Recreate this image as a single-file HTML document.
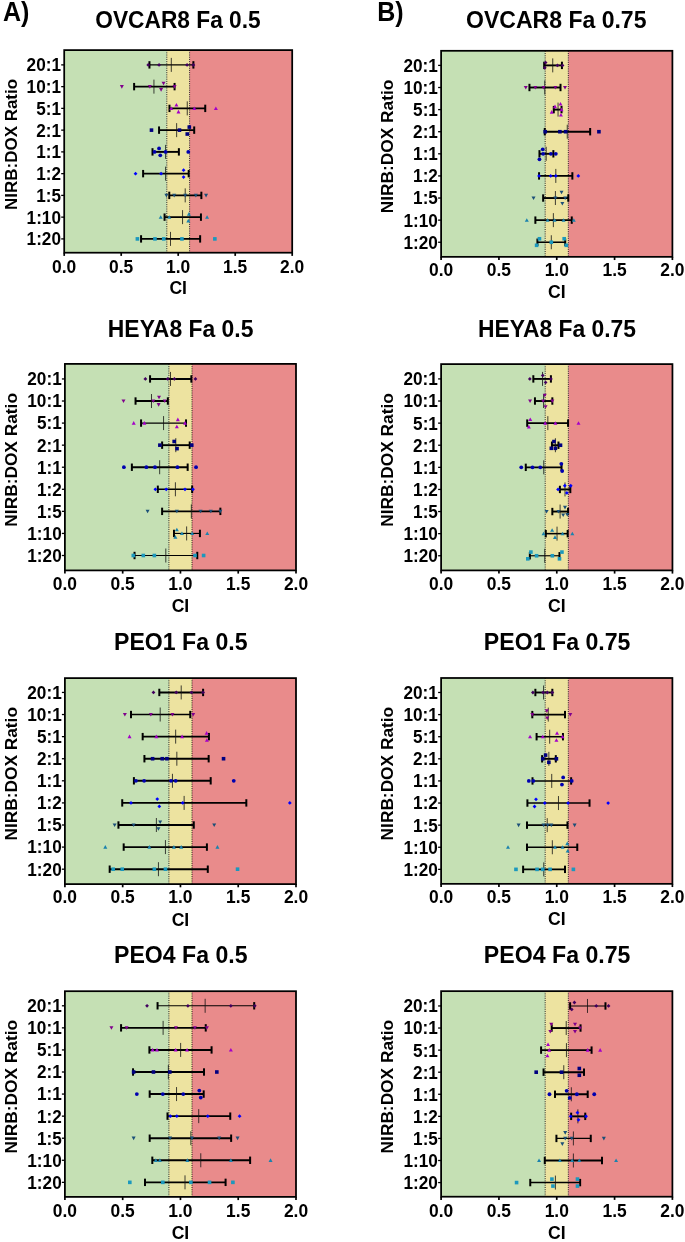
<!DOCTYPE html>
<html><head><meta charset="utf-8"><title>Figure</title><style>html,body{margin:0;padding:0;background:#fff}svg{display:block;will-change:transform}</style></head><body>
<svg width="685" height="1242" viewBox="0 0 685 1242">
<defs><filter id="soft" filterUnits="userSpaceOnUse" x="0" y="0" width="685" height="1242"><feGaussianBlur stdDeviation="0.38"/></filter></defs>
<rect width="685" height="1242" fill="#fff"/>
<g filter="url(#soft)">
<rect width="685" height="1242" fill="#fff"/>
<text x="3.0" y="21.0" font-size="27.2" textLength="26.4" lengthAdjust="spacingAndGlyphs" font-family="Liberation Sans, sans-serif" font-weight="bold">A)</text>
<text x="377.2" y="21.0" font-size="27.2" textLength="26.4" lengthAdjust="spacingAndGlyphs" font-family="Liberation Sans, sans-serif" font-weight="bold">B)</text>
<g><rect x="64.2" y="50.1" width="102.6" height="202.6" fill="#c5e0b4"/><rect x="166.8" y="50.1" width="22.8" height="202.6" fill="#ede3a0"/><rect x="189.6" y="50.1" width="102.6" height="202.6" fill="#e98b8b"/><line x1="166.8" y1="50.1" x2="166.8" y2="252.7" stroke="#000" stroke-width="0.82" stroke-dasharray="1.05 1.15"/><line x1="189.6" y1="50.1" x2="189.6" y2="252.7" stroke="#000" stroke-width="0.82" stroke-dasharray="1.05 1.15"/><line x1="149.45" y1="64.88" x2="193.39" y2="64.88" stroke="#000" stroke-width="1.15"/><line x1="149.45" y1="61.18" x2="149.45" y2="68.58" stroke="#000" stroke-width="2"/><line x1="193.39" y1="61.18" x2="193.39" y2="68.58" stroke="#000" stroke-width="2"/><line x1="171.31" y1="57.88" x2="171.31" y2="71.88" stroke="#111" stroke-width="0.8"/><path d="M148.22 62.98L150.12 64.88L148.22 66.78L146.32 64.88Z" fill="#43005f"/><path d="M159.05 62.98L160.95 64.88L159.05 66.78L157.15 64.88Z" fill="#43005f"/><path d="M187.05 62.98L188.95 64.88L187.05 66.78L185.15 64.88Z" fill="#43005f"/><path d="M193.39 62.98L195.29 64.88L193.39 66.78L191.49 64.88Z" fill="#43005f"/><line x1="134.12" y1="86.63" x2="174.58" y2="86.63" stroke="#000" stroke-width="1.9"/><line x1="134.12" y1="82.93" x2="134.12" y2="90.33" stroke="#000" stroke-width="2"/><line x1="174.58" y1="82.93" x2="174.58" y2="90.33" stroke="#000" stroke-width="2"/><line x1="153.94" y1="79.63" x2="153.94" y2="93.63" stroke="#111" stroke-width="0.8"/><path d="M121.85 88.63L123.85 85.03L119.85 85.03Z" fill="#80008c"/><path d="M149.85 88.63L151.85 85.03L147.85 85.03Z" fill="#80008c"/><path d="M163.55 85.36L165.55 81.76L161.55 81.76Z" fill="#80008c"/><path d="M161.09 91.7L163.09 88.1L159.09 88.1Z" fill="#80008c"/><path d="M174.58 88.63L176.58 85.03L172.58 85.03Z" fill="#80008c"/><line x1="169.47" y1="108.38" x2="205.24" y2="108.38" stroke="#000" stroke-width="1.9"/><line x1="169.47" y1="104.68" x2="169.47" y2="112.08" stroke="#000" stroke-width="2"/><line x1="205.24" y1="104.68" x2="205.24" y2="112.08" stroke="#000" stroke-width="2"/><line x1="187.26" y1="101.38" x2="187.26" y2="115.38" stroke="#111" stroke-width="0.8"/><path d="M171.31 106.38L173.31 109.98L169.31 109.98Z" fill="#a400c8"/><path d="M176.42 102.91L178.42 106.51L174.42 106.51Z" fill="#a400c8"/><path d="M178.47 109.86L180.47 113.46L176.47 113.46Z" fill="#a400c8"/><path d="M194.41 106.38L196.41 109.98L192.41 109.98Z" fill="#a400c8"/><path d="M215.87 106.38L217.87 109.98L213.87 109.98Z" fill="#a400c8"/><line x1="159.05" y1="130.13" x2="194.2" y2="130.13" stroke="#000" stroke-width="1.9"/><line x1="159.05" y1="126.43" x2="159.05" y2="133.83" stroke="#000" stroke-width="2"/><line x1="194.2" y1="126.43" x2="194.2" y2="133.83" stroke="#000" stroke-width="2"/><line x1="176.63" y1="123.13" x2="176.63" y2="137.13" stroke="#111" stroke-width="0.8"/><rect x="149.69" y="128.33" width="3.6" height="3.6" fill="#000080"/><rect x="177.69" y="128.33" width="3.6" height="3.6" fill="#000080"/><rect x="187.5" y="125.27" width="3.6" height="3.6" fill="#000080"/><rect x="185.46" y="132.22" width="3.6" height="3.6" fill="#000080"/><line x1="152.51" y1="151.89" x2="178.88" y2="151.89" stroke="#000" stroke-width="1.9"/><line x1="152.51" y1="148.19" x2="152.51" y2="155.59" stroke="#000" stroke-width="2"/><line x1="178.88" y1="148.19" x2="178.88" y2="155.59" stroke="#000" stroke-width="2"/><line x1="165.59" y1="144.89" x2="165.59" y2="158.89" stroke="#111" stroke-width="0.8"/><circle cx="159.05" cy="148.41" r="1.9" fill="#0000b0"/><circle cx="154.55" cy="151.89" r="1.9" fill="#0000b0"/><circle cx="165.59" cy="151.89" r="1.9" fill="#0000b0"/><circle cx="160.28" cy="155.36" r="1.9" fill="#0000b0"/><circle cx="188.28" cy="151.89" r="1.9" fill="#0000b0"/><line x1="143.11" y1="173.64" x2="188.69" y2="173.64" stroke="#000" stroke-width="1.9"/><line x1="143.11" y1="169.94" x2="143.11" y2="177.34" stroke="#000" stroke-width="2"/><line x1="188.69" y1="169.94" x2="188.69" y2="177.34" stroke="#000" stroke-width="2"/><line x1="165.59" y1="166.64" x2="165.59" y2="180.64" stroke="#111" stroke-width="0.8"/><path d="M135.55 171.74L137.45 173.64L135.55 175.54L133.65 173.64Z" fill="#0000ff"/><path d="M161.09 171.74L162.99 173.64L161.09 175.54L159.19 173.64Z" fill="#0000ff"/><path d="M183.58 168.26L185.48 170.16L183.58 172.06L181.68 170.16Z" fill="#0000ff"/><path d="M183.58 175.21L185.48 177.11L183.58 179.01L181.68 177.11Z" fill="#0000ff"/><line x1="169.27" y1="195.39" x2="201.36" y2="195.39" stroke="#000" stroke-width="1.55"/><line x1="169.27" y1="191.69" x2="169.27" y2="199.09" stroke="#000" stroke-width="2"/><line x1="201.36" y1="191.69" x2="201.36" y2="199.09" stroke="#000" stroke-width="2"/><line x1="185.21" y1="188.39" x2="185.21" y2="202.39" stroke="#111" stroke-width="0.8"/><path d="M166.41 197.39L168.41 193.79L164.41 193.79Z" fill="#1a4f78"/><path d="M174.18 197.39L176.18 193.79L172.18 193.79Z" fill="#1a4f78"/><path d="M185.21 197.39L187.21 193.79L183.21 193.79Z" fill="#1a4f78"/><path d="M195.84 197.39L197.84 193.79L193.84 193.79Z" fill="#1a4f78"/><path d="M206.06 197.39L208.06 193.79L204.06 193.79Z" fill="#1a4f78"/><line x1="164.57" y1="217.14" x2="200.95" y2="217.14" stroke="#000" stroke-width="1.55"/><line x1="164.57" y1="213.44" x2="164.57" y2="220.84" stroke="#000" stroke-width="2"/><line x1="200.95" y1="213.44" x2="200.95" y2="220.84" stroke="#000" stroke-width="2"/><line x1="182.55" y1="210.14" x2="182.55" y2="224.14" stroke="#111" stroke-width="0.8"/><path d="M160.69 215.14L162.69 218.74L158.69 218.74Z" fill="#1a82ad"/><path d="M169.27 215.14L171.27 218.74L167.27 218.74Z" fill="#1a82ad"/><path d="M188.89 212.08L190.89 215.68L186.89 215.68Z" fill="#1a82ad"/><path d="M188.28 218.82L190.28 222.42L186.28 222.42Z" fill="#1a82ad"/><path d="M207.08 215.14L209.08 218.74L205.08 218.74Z" fill="#1a82ad"/><line x1="141.07" y1="238.9" x2="200.13" y2="238.9" stroke="#000" stroke-width="1.9"/><line x1="141.07" y1="235.2" x2="141.07" y2="242.6" stroke="#000" stroke-width="2"/><line x1="200.13" y1="235.2" x2="200.13" y2="242.6" stroke="#000" stroke-width="2"/><line x1="170.5" y1="231.9" x2="170.5" y2="245.9" stroke="#111" stroke-width="0.8"/><rect x="135.59" y="237.1" width="3.6" height="3.6" fill="#1a98bd"/><rect x="153.16" y="237.1" width="3.6" height="3.6" fill="#1a98bd"/><rect x="161.95" y="237.1" width="3.6" height="3.6" fill="#1a98bd"/><rect x="180.14" y="237.1" width="3.6" height="3.6" fill="#1a98bd"/><rect x="213.05" y="237.1" width="3.6" height="3.6" fill="#1a98bd"/><rect x="64.2" y="50.1" width="228" height="202.6" fill="none" stroke="#000" stroke-width="1.75"/><line x1="61.2" y1="64.88" x2="64.2" y2="64.88" stroke="#000" stroke-width="1.3"/><text x="61" y="71.28" font-size="17.8" text-anchor="end" textLength="34.4" lengthAdjust="spacingAndGlyphs" font-family="Liberation Sans, sans-serif" font-weight="bold">20:1</text><line x1="61.2" y1="86.63" x2="64.2" y2="86.63" stroke="#000" stroke-width="1.3"/><text x="61" y="93.03" font-size="17.8" text-anchor="end" textLength="34.4" lengthAdjust="spacingAndGlyphs" font-family="Liberation Sans, sans-serif" font-weight="bold">10:1</text><line x1="61.2" y1="108.38" x2="64.2" y2="108.38" stroke="#000" stroke-width="1.3"/><text x="61" y="114.78" font-size="17.8" text-anchor="end" textLength="24.8" lengthAdjust="spacingAndGlyphs" font-family="Liberation Sans, sans-serif" font-weight="bold">5:1</text><line x1="61.2" y1="130.13" x2="64.2" y2="130.13" stroke="#000" stroke-width="1.3"/><text x="61" y="136.53" font-size="17.8" text-anchor="end" textLength="24.8" lengthAdjust="spacingAndGlyphs" font-family="Liberation Sans, sans-serif" font-weight="bold">2:1</text><line x1="61.2" y1="151.89" x2="64.2" y2="151.89" stroke="#000" stroke-width="1.3"/><text x="61" y="158.29" font-size="17.8" text-anchor="end" textLength="24.8" lengthAdjust="spacingAndGlyphs" font-family="Liberation Sans, sans-serif" font-weight="bold">1:1</text><line x1="61.2" y1="173.64" x2="64.2" y2="173.64" stroke="#000" stroke-width="1.3"/><text x="61" y="180.04" font-size="17.8" text-anchor="end" textLength="24.8" lengthAdjust="spacingAndGlyphs" font-family="Liberation Sans, sans-serif" font-weight="bold">1:2</text><line x1="61.2" y1="195.39" x2="64.2" y2="195.39" stroke="#000" stroke-width="1.3"/><text x="61" y="201.79" font-size="17.8" text-anchor="end" textLength="24.8" lengthAdjust="spacingAndGlyphs" font-family="Liberation Sans, sans-serif" font-weight="bold">1:5</text><line x1="61.2" y1="217.14" x2="64.2" y2="217.14" stroke="#000" stroke-width="1.3"/><text x="61" y="223.54" font-size="17.8" text-anchor="end" textLength="34.4" lengthAdjust="spacingAndGlyphs" font-family="Liberation Sans, sans-serif" font-weight="bold">1:10</text><line x1="61.2" y1="238.9" x2="64.2" y2="238.9" stroke="#000" stroke-width="1.3"/><text x="61" y="245.3" font-size="17.8" text-anchor="end" textLength="34.4" lengthAdjust="spacingAndGlyphs" font-family="Liberation Sans, sans-serif" font-weight="bold">1:20</text><line x1="64.2" y1="252.7" x2="64.2" y2="255.9" stroke="#000" stroke-width="1.7"/><text x="64.2" y="272.8" font-size="17.9" text-anchor="middle" textLength="24.2" lengthAdjust="spacingAndGlyphs" font-family="Liberation Sans, sans-serif" font-weight="bold">0.0</text><line x1="121.2" y1="252.7" x2="121.2" y2="255.9" stroke="#000" stroke-width="1.7"/><text x="121.2" y="272.8" font-size="17.9" text-anchor="middle" textLength="24.2" lengthAdjust="spacingAndGlyphs" font-family="Liberation Sans, sans-serif" font-weight="bold">0.5</text><line x1="178.2" y1="252.7" x2="178.2" y2="255.9" stroke="#000" stroke-width="1.7"/><text x="178.2" y="272.8" font-size="17.9" text-anchor="middle" textLength="24.2" lengthAdjust="spacingAndGlyphs" font-family="Liberation Sans, sans-serif" font-weight="bold">1.0</text><line x1="235.2" y1="252.7" x2="235.2" y2="255.9" stroke="#000" stroke-width="1.7"/><text x="235.2" y="272.8" font-size="17.9" text-anchor="middle" textLength="24.2" lengthAdjust="spacingAndGlyphs" font-family="Liberation Sans, sans-serif" font-weight="bold">1.5</text><line x1="292.2" y1="252.7" x2="292.2" y2="255.9" stroke="#000" stroke-width="1.7"/><text x="292.2" y="272.8" font-size="17.9" text-anchor="middle" textLength="24.2" lengthAdjust="spacingAndGlyphs" font-family="Liberation Sans, sans-serif" font-weight="bold">2.0</text><text x="178.2" y="294.2" font-size="18" text-anchor="middle" textLength="17.6" lengthAdjust="spacingAndGlyphs" font-family="Liberation Sans, sans-serif" font-weight="bold">CI</text><text transform="translate(16.9 144.4) rotate(-90)" font-size="16.8" text-anchor="middle" textLength="131" lengthAdjust="spacingAndGlyphs" font-family="Liberation Sans, sans-serif" font-weight="bold">NIRB:DOX Ratio</text><text x="95.3" y="28.15" font-size="23.2" textLength="165.4" lengthAdjust="spacingAndGlyphs" font-family="Liberation Sans, sans-serif" font-weight="bold">OVCAR8 Fa 0.5</text></g>
<g><rect x="441.1" y="50.8" width="104.08" height="206.05" fill="#c5e0b4"/><rect x="545.18" y="50.8" width="23.13" height="206.05" fill="#ede3a0"/><rect x="568.32" y="50.8" width="104.08" height="206.05" fill="#e98b8b"/><line x1="545.18" y1="50.8" x2="545.18" y2="256.85" stroke="#000" stroke-width="0.82" stroke-dasharray="1.05 1.15"/><line x1="568.32" y1="50.8" x2="568.32" y2="256.85" stroke="#000" stroke-width="0.82" stroke-dasharray="1.05 1.15"/><line x1="544.16" y1="65.39" x2="561.94" y2="65.39" stroke="#000" stroke-width="1.9"/><line x1="544.16" y1="61.69" x2="544.16" y2="69.09" stroke="#000" stroke-width="2"/><line x1="561.94" y1="61.69" x2="561.94" y2="69.09" stroke="#000" stroke-width="2"/><line x1="552.74" y1="58.39" x2="552.74" y2="72.39" stroke="#111" stroke-width="0.8"/><path d="M545.59 60.63L547.49 62.53L545.59 64.43L543.69 62.53Z" fill="#43005f"/><path d="M544.77 65.95L546.67 67.85L544.77 69.75L542.87 67.85Z" fill="#43005f"/><path d="M557.45 63.49L559.35 65.39L557.45 67.29L555.55 65.39Z" fill="#43005f"/><path d="M562.55 63.49L564.45 65.39L562.55 67.29L560.65 65.39Z" fill="#43005f"/><line x1="529.45" y1="87.5" x2="560.51" y2="87.5" stroke="#000" stroke-width="1.9"/><line x1="529.45" y1="83.8" x2="529.45" y2="91.2" stroke="#000" stroke-width="2"/><line x1="560.51" y1="83.8" x2="560.51" y2="91.2" stroke="#000" stroke-width="2"/><line x1="544.77" y1="80.5" x2="544.77" y2="94.5" stroke="#111" stroke-width="0.8"/><path d="M525.77 89.5L527.77 85.9L523.77 85.9Z" fill="#80008c"/><path d="M535.37 89.5L537.37 85.9L533.37 85.9Z" fill="#80008c"/><path d="M543.55 89.5L545.55 85.9L541.55 85.9Z" fill="#80008c"/><path d="M555.4 89.5L557.4 85.9L553.4 85.9Z" fill="#80008c"/><path d="M565.01 89.5L567.01 85.9L563.01 85.9Z" fill="#80008c"/><line x1="553.77" y1="109.6" x2="561.53" y2="109.6" stroke="#000" stroke-width="1.9"/><line x1="553.77" y1="105.9" x2="553.77" y2="113.3" stroke="#000" stroke-width="2"/><line x1="561.53" y1="105.9" x2="561.53" y2="113.3" stroke="#000" stroke-width="2"/><line x1="558.06" y1="102.6" x2="558.06" y2="116.6" stroke="#111" stroke-width="0.8"/><path d="M551.72 110.06L553.72 113.66L549.72 113.66Z" fill="#a400c8"/><path d="M554.99 104.54L556.99 108.14L552.99 108.14Z" fill="#a400c8"/><path d="M560.51 101.88L562.51 105.48L558.51 105.48Z" fill="#a400c8"/><path d="M561.53 107.6L563.53 111.2L559.53 111.2Z" fill="#a400c8"/><path d="M560.92 112.92L562.92 116.52L558.92 116.52Z" fill="#a400c8"/><line x1="544.77" y1="131.71" x2="590.15" y2="131.71" stroke="#000" stroke-width="1.9"/><line x1="544.77" y1="128.01" x2="544.77" y2="135.41" stroke="#000" stroke-width="2"/><line x1="590.15" y1="128.01" x2="590.15" y2="135.41" stroke="#000" stroke-width="2"/><line x1="567.26" y1="124.71" x2="567.26" y2="138.71" stroke="#111" stroke-width="0.8"/><rect x="543.38" y="129.91" width="3.6" height="3.6" fill="#000080"/><rect x="558.1" y="129.91" width="3.6" height="3.6" fill="#000080"/><rect x="563.82" y="129.91" width="3.6" height="3.6" fill="#000080"/><rect x="597.13" y="129.91" width="3.6" height="3.6" fill="#000080"/><line x1="539.46" y1="153.82" x2="553.36" y2="153.82" stroke="#000" stroke-width="1.9"/><line x1="539.46" y1="150.12" x2="539.46" y2="157.52" stroke="#000" stroke-width="2"/><line x1="553.36" y1="150.12" x2="553.36" y2="157.52" stroke="#000" stroke-width="2"/><line x1="546.2" y1="146.82" x2="546.2" y2="160.82" stroke="#111" stroke-width="0.8"/><circle cx="542.73" cy="149.32" r="1.9" fill="#0000b0"/><circle cx="543.14" cy="153.82" r="1.9" fill="#0000b0"/><circle cx="550.91" cy="153.82" r="1.9" fill="#0000b0"/><circle cx="555.81" cy="153.82" r="1.9" fill="#0000b0"/><circle cx="539.46" cy="159.33" r="1.9" fill="#0000b0"/><line x1="539.05" y1="175.92" x2="572.36" y2="175.92" stroke="#000" stroke-width="1.9"/><line x1="539.05" y1="172.22" x2="539.05" y2="179.62" stroke="#000" stroke-width="2"/><line x1="572.36" y1="172.22" x2="572.36" y2="179.62" stroke="#000" stroke-width="2"/><line x1="555.81" y1="168.92" x2="555.81" y2="182.92" stroke="#111" stroke-width="0.8"/><path d="M539.05 174.02L540.95 175.92L539.05 177.82L537.15 175.92Z" fill="#0000ff"/><path d="M550.7 174.02L552.6 175.92L550.7 177.82L548.8 175.92Z" fill="#0000ff"/><path d="M555.81 174.02L557.71 175.92L555.81 177.82L553.91 175.92Z" fill="#0000ff"/><path d="M578.29 174.02L580.19 175.92L578.29 177.82L576.39 175.92Z" fill="#0000ff"/><line x1="543.14" y1="198.03" x2="568.28" y2="198.03" stroke="#000" stroke-width="1.9"/><line x1="543.14" y1="194.33" x2="543.14" y2="201.73" stroke="#000" stroke-width="2"/><line x1="568.28" y1="194.33" x2="568.28" y2="201.73" stroke="#000" stroke-width="2"/><line x1="555.4" y1="191.03" x2="555.4" y2="205.03" stroke="#111" stroke-width="0.8"/><path d="M533.53 200.03L535.53 196.43L531.53 196.43Z" fill="#1a4f78"/><path d="M561.53 194.3L563.53 190.7L559.53 190.7Z" fill="#1a4f78"/><path d="M555.4 200.03L557.4 196.43L553.4 196.43Z" fill="#1a4f78"/><path d="M565.21 200.03L567.21 196.43L563.21 196.43Z" fill="#1a4f78"/><path d="M562.35 205.54L564.35 201.94L560.35 201.94Z" fill="#1a4f78"/><line x1="535.37" y1="220.13" x2="571.75" y2="220.13" stroke="#000" stroke-width="1.9"/><line x1="535.37" y1="216.43" x2="535.37" y2="223.83" stroke="#000" stroke-width="2"/><line x1="571.75" y1="216.43" x2="571.75" y2="223.83" stroke="#000" stroke-width="2"/><line x1="553.36" y1="213.13" x2="553.36" y2="227.13" stroke="#111" stroke-width="0.8"/><path d="M526.79 218.13L528.79 221.73L524.79 221.73Z" fill="#1a82ad"/><path d="M547.64 218.13L549.64 221.73L545.64 221.73Z" fill="#1a82ad"/><path d="M554.58 218.13L556.58 221.73L552.58 221.73Z" fill="#1a82ad"/><path d="M563.58 218.13L565.58 221.73L561.58 221.73Z" fill="#1a82ad"/><path d="M573.8 218.13L575.8 221.73L571.8 221.73Z" fill="#1a82ad"/><line x1="537.42" y1="242.24" x2="565.21" y2="242.24" stroke="#000" stroke-width="1.55"/><line x1="537.42" y1="238.54" x2="537.42" y2="245.94" stroke="#000" stroke-width="2"/><line x1="565.21" y1="238.54" x2="565.21" y2="245.94" stroke="#000" stroke-width="2"/><line x1="551.31" y1="235.24" x2="551.31" y2="249.24" stroke="#111" stroke-width="0.8"/><rect x="537.66" y="236.96" width="3.6" height="3.6" fill="#1a98bd"/><rect x="562.39" y="236.96" width="3.6" height="3.6" fill="#1a98bd"/><rect x="549.51" y="240.44" width="3.6" height="3.6" fill="#1a98bd"/><rect x="534.8" y="243.5" width="3.6" height="3.6" fill="#1a98bd"/><rect x="564.43" y="243.5" width="3.6" height="3.6" fill="#1a98bd"/><rect x="441.1" y="50.8" width="231.3" height="206.05" fill="none" stroke="#000" stroke-width="1.75"/><line x1="438.1" y1="65.39" x2="441.1" y2="65.39" stroke="#000" stroke-width="1.3"/><text x="437.9" y="71.79" font-size="17.8" text-anchor="end" textLength="34.4" lengthAdjust="spacingAndGlyphs" font-family="Liberation Sans, sans-serif" font-weight="bold">20:1</text><line x1="438.1" y1="87.5" x2="441.1" y2="87.5" stroke="#000" stroke-width="1.3"/><text x="437.9" y="93.9" font-size="17.8" text-anchor="end" textLength="34.4" lengthAdjust="spacingAndGlyphs" font-family="Liberation Sans, sans-serif" font-weight="bold">10:1</text><line x1="438.1" y1="109.6" x2="441.1" y2="109.6" stroke="#000" stroke-width="1.3"/><text x="437.9" y="116" font-size="17.8" text-anchor="end" textLength="24.8" lengthAdjust="spacingAndGlyphs" font-family="Liberation Sans, sans-serif" font-weight="bold">5:1</text><line x1="438.1" y1="131.71" x2="441.1" y2="131.71" stroke="#000" stroke-width="1.3"/><text x="437.9" y="138.11" font-size="17.8" text-anchor="end" textLength="24.8" lengthAdjust="spacingAndGlyphs" font-family="Liberation Sans, sans-serif" font-weight="bold">2:1</text><line x1="438.1" y1="153.82" x2="441.1" y2="153.82" stroke="#000" stroke-width="1.3"/><text x="437.9" y="160.22" font-size="17.8" text-anchor="end" textLength="24.8" lengthAdjust="spacingAndGlyphs" font-family="Liberation Sans, sans-serif" font-weight="bold">1:1</text><line x1="438.1" y1="175.92" x2="441.1" y2="175.92" stroke="#000" stroke-width="1.3"/><text x="437.9" y="182.32" font-size="17.8" text-anchor="end" textLength="24.8" lengthAdjust="spacingAndGlyphs" font-family="Liberation Sans, sans-serif" font-weight="bold">1:2</text><line x1="438.1" y1="198.03" x2="441.1" y2="198.03" stroke="#000" stroke-width="1.3"/><text x="437.9" y="204.43" font-size="17.8" text-anchor="end" textLength="24.8" lengthAdjust="spacingAndGlyphs" font-family="Liberation Sans, sans-serif" font-weight="bold">1:5</text><line x1="438.1" y1="220.13" x2="441.1" y2="220.13" stroke="#000" stroke-width="1.3"/><text x="437.9" y="226.53" font-size="17.8" text-anchor="end" textLength="34.4" lengthAdjust="spacingAndGlyphs" font-family="Liberation Sans, sans-serif" font-weight="bold">1:10</text><line x1="438.1" y1="242.24" x2="441.1" y2="242.24" stroke="#000" stroke-width="1.3"/><text x="437.9" y="248.64" font-size="17.8" text-anchor="end" textLength="34.4" lengthAdjust="spacingAndGlyphs" font-family="Liberation Sans, sans-serif" font-weight="bold">1:20</text><line x1="441.1" y1="256.85" x2="441.1" y2="260.05" stroke="#000" stroke-width="1.7"/><text x="441.1" y="275.95" font-size="17.9" text-anchor="middle" textLength="24.2" lengthAdjust="spacingAndGlyphs" font-family="Liberation Sans, sans-serif" font-weight="bold">0.0</text><line x1="498.93" y1="256.85" x2="498.93" y2="260.05" stroke="#000" stroke-width="1.7"/><text x="498.93" y="275.95" font-size="17.9" text-anchor="middle" textLength="24.2" lengthAdjust="spacingAndGlyphs" font-family="Liberation Sans, sans-serif" font-weight="bold">0.5</text><line x1="556.75" y1="256.85" x2="556.75" y2="260.05" stroke="#000" stroke-width="1.7"/><text x="556.75" y="275.95" font-size="17.9" text-anchor="middle" textLength="24.2" lengthAdjust="spacingAndGlyphs" font-family="Liberation Sans, sans-serif" font-weight="bold">1.0</text><line x1="614.58" y1="256.85" x2="614.58" y2="260.05" stroke="#000" stroke-width="1.7"/><text x="614.58" y="275.95" font-size="17.9" text-anchor="middle" textLength="24.2" lengthAdjust="spacingAndGlyphs" font-family="Liberation Sans, sans-serif" font-weight="bold">1.5</text><line x1="672.4" y1="256.85" x2="672.4" y2="260.05" stroke="#000" stroke-width="1.7"/><text x="672.4" y="275.95" font-size="17.9" text-anchor="middle" textLength="24.2" lengthAdjust="spacingAndGlyphs" font-family="Liberation Sans, sans-serif" font-weight="bold">2.0</text><text x="556.75" y="298.25" font-size="18" text-anchor="middle" textLength="17.6" lengthAdjust="spacingAndGlyphs" font-family="Liberation Sans, sans-serif" font-weight="bold">CI</text><text transform="translate(392.7 146.53) rotate(-90)" font-size="16.8" text-anchor="middle" textLength="133.6" lengthAdjust="spacingAndGlyphs" font-family="Liberation Sans, sans-serif" font-weight="bold">NIRB:DOX Ratio</text><text x="466" y="28.15" font-size="23.2" textLength="180.5" lengthAdjust="spacingAndGlyphs" font-family="Liberation Sans, sans-serif" font-weight="bold">OVCAR8 Fa 0.75</text></g>
<g><rect x="64.9" y="363.9" width="104" height="206.5" fill="#c5e0b4"/><rect x="168.9" y="363.9" width="23.11" height="206.5" fill="#ede3a0"/><rect x="192" y="363.9" width="104" height="206.5" fill="#e98b8b"/><line x1="168.9" y1="363.9" x2="168.9" y2="570.4" stroke="#000" stroke-width="0.82" stroke-dasharray="1.05 1.15"/><line x1="192" y1="363.9" x2="192" y2="570.4" stroke="#000" stroke-width="0.82" stroke-dasharray="1.05 1.15"/><line x1="150.06" y1="378.95" x2="191.34" y2="378.95" stroke="#000" stroke-width="1.9"/><line x1="150.06" y1="375.25" x2="150.06" y2="382.65" stroke="#000" stroke-width="2"/><line x1="191.34" y1="375.25" x2="191.34" y2="382.65" stroke="#000" stroke-width="2"/><line x1="170.5" y1="371.95" x2="170.5" y2="385.95" stroke="#111" stroke-width="0.8"/><path d="M145.36 377.05L147.26 378.95L145.36 380.85L143.46 378.95Z" fill="#43005f"/><path d="M167.64 377.05L169.54 378.95L167.64 380.85L165.74 378.95Z" fill="#43005f"/><path d="M174.38 377.05L176.28 378.95L174.38 380.85L172.48 378.95Z" fill="#43005f"/><path d="M195.43 377.05L197.33 378.95L195.43 380.85L193.53 378.95Z" fill="#43005f"/><line x1="135.55" y1="401.02" x2="167.84" y2="401.02" stroke="#000" stroke-width="1.9"/><line x1="135.55" y1="397.32" x2="135.55" y2="404.72" stroke="#000" stroke-width="2"/><line x1="167.84" y1="397.32" x2="167.84" y2="404.72" stroke="#000" stroke-width="2"/><line x1="151.49" y1="394.02" x2="151.49" y2="408.02" stroke="#111" stroke-width="0.8"/><path d="M123.49 403.02L125.49 399.42L121.49 399.42Z" fill="#80008c"/><path d="M153.33 403.02L155.33 399.42L151.33 399.42Z" fill="#80008c"/><path d="M159.05 399.34L161.05 395.74L157.05 395.74Z" fill="#80008c"/><path d="M158.64 406.7L160.64 403.1L156.64 403.1Z" fill="#80008c"/><path d="M164.77 403.02L166.77 399.42L162.77 399.42Z" fill="#80008c"/><line x1="141.07" y1="423.09" x2="186.03" y2="423.09" stroke="#000" stroke-width="1.15"/><line x1="141.07" y1="419.39" x2="141.07" y2="426.79" stroke="#000" stroke-width="2"/><line x1="186.03" y1="419.39" x2="186.03" y2="426.79" stroke="#000" stroke-width="2"/><line x1="163.55" y1="416.09" x2="163.55" y2="430.09" stroke="#111" stroke-width="0.8"/><path d="M133.71 421.09L135.71 424.69L131.71 424.69Z" fill="#a400c8"/><path d="M144.34 421.09L146.34 424.69L142.34 424.69Z" fill="#a400c8"/><path d="M177.85 417.61L179.85 421.21L175.85 421.21Z" fill="#a400c8"/><path d="M176.83 424.77L178.83 428.37L174.83 428.37Z" fill="#a400c8"/><path d="M185.01 421.09L187.01 424.69L183.01 424.69Z" fill="#a400c8"/><line x1="162.12" y1="445.16" x2="189.71" y2="445.16" stroke="#000" stroke-width="1.9"/><line x1="162.12" y1="441.46" x2="162.12" y2="448.86" stroke="#000" stroke-width="2"/><line x1="189.71" y1="441.46" x2="189.71" y2="448.86" stroke="#000" stroke-width="2"/><line x1="175.81" y1="438.16" x2="175.81" y2="452.16" stroke="#111" stroke-width="0.8"/><rect x="158.07" y="443.36" width="3.6" height="3.6" fill="#000080"/><rect x="172.38" y="439.68" width="3.6" height="3.6" fill="#000080"/><rect x="175.24" y="446.83" width="3.6" height="3.6" fill="#000080"/><rect x="189.95" y="443.36" width="3.6" height="3.6" fill="#000080"/><line x1="131.87" y1="467.22" x2="187.66" y2="467.22" stroke="#000" stroke-width="1.9"/><line x1="131.87" y1="463.52" x2="131.87" y2="470.92" stroke="#000" stroke-width="2"/><line x1="187.66" y1="463.52" x2="187.66" y2="470.92" stroke="#000" stroke-width="2"/><line x1="159.66" y1="460.22" x2="159.66" y2="474.22" stroke="#111" stroke-width="0.8"/><circle cx="123.9" cy="467.22" r="1.9" fill="#0000b0"/><circle cx="146.38" cy="467.22" r="1.9" fill="#0000b0"/><circle cx="154.96" cy="467.22" r="1.9" fill="#0000b0"/><circle cx="177.45" cy="467.22" r="1.9" fill="#0000b0"/><circle cx="196.04" cy="467.22" r="1.9" fill="#0000b0"/><line x1="157.82" y1="489.29" x2="192.16" y2="489.29" stroke="#000" stroke-width="1.55"/><line x1="157.82" y1="485.59" x2="157.82" y2="492.99" stroke="#000" stroke-width="2"/><line x1="192.16" y1="485.59" x2="192.16" y2="492.99" stroke="#000" stroke-width="2"/><line x1="175.4" y1="482.29" x2="175.4" y2="496.29" stroke="#111" stroke-width="0.8"/><path d="M155.37 487.39L157.27 489.29L155.37 491.19L153.47 489.29Z" fill="#0000ff"/><path d="M166.2 487.39L168.1 489.29L166.2 491.19L164.3 489.29Z" fill="#0000ff"/><path d="M185.01 487.39L186.91 489.29L185.01 491.19L183.11 489.29Z" fill="#0000ff"/><path d="M192.98 487.39L194.88 489.29L192.98 491.19L191.08 489.29Z" fill="#0000ff"/><line x1="162.12" y1="511.36" x2="220.36" y2="511.36" stroke="#000" stroke-width="1.9"/><line x1="162.12" y1="507.66" x2="162.12" y2="515.06" stroke="#000" stroke-width="2"/><line x1="220.36" y1="507.66" x2="220.36" y2="515.06" stroke="#000" stroke-width="2"/><line x1="191.34" y1="504.36" x2="191.34" y2="518.36" stroke="#111" stroke-width="0.8"/><path d="M147.61 513.36L149.61 509.76L145.61 509.76Z" fill="#1a4f78"/><path d="M176.83 513.36L178.83 509.76L174.83 509.76Z" fill="#1a4f78"/><path d="M200.54 513.36L202.54 509.76L198.54 509.76Z" fill="#1a4f78"/><path d="M210.76 513.36L212.76 509.76L208.76 509.76Z" fill="#1a4f78"/><path d="M220.36 513.36L222.36 509.76L218.36 509.76Z" fill="#1a4f78"/><line x1="173.97" y1="533.43" x2="199.93" y2="533.43" stroke="#000" stroke-width="1.15"/><line x1="173.97" y1="529.73" x2="173.97" y2="537.13" stroke="#000" stroke-width="2"/><line x1="199.93" y1="529.73" x2="199.93" y2="537.13" stroke="#000" stroke-width="2"/><line x1="186.64" y1="526.43" x2="186.64" y2="540.43" stroke="#111" stroke-width="0.8"/><path d="M176.83 527.75L178.83 531.35L174.83 531.35Z" fill="#1a82ad"/><path d="M181.94 531.43L183.94 535.03L179.94 535.03Z" fill="#1a82ad"/><path d="M175.4 535.11L177.4 538.71L173.4 538.71Z" fill="#1a82ad"/><path d="M192.16 531.43L194.16 535.03L190.16 535.03Z" fill="#1a82ad"/><path d="M207.28 531.43L209.28 535.03L205.28 535.03Z" fill="#1a82ad"/><line x1="134.53" y1="555.5" x2="197.27" y2="555.5" stroke="#000" stroke-width="1.15"/><line x1="134.53" y1="551.8" x2="134.53" y2="559.2" stroke="#000" stroke-width="2"/><line x1="197.27" y1="551.8" x2="197.27" y2="559.2" stroke="#000" stroke-width="2"/><line x1="165.8" y1="548.5" x2="165.8" y2="562.5" stroke="#111" stroke-width="0.8"/><rect x="131.5" y="553.7" width="3.6" height="3.6" fill="#1a98bd"/><rect x="141.51" y="553.7" width="3.6" height="3.6" fill="#1a98bd"/><rect x="152.55" y="553.7" width="3.6" height="3.6" fill="#1a98bd"/><rect x="193.22" y="553.7" width="3.6" height="3.6" fill="#1a98bd"/><rect x="201.81" y="553.7" width="3.6" height="3.6" fill="#1a98bd"/><rect x="64.9" y="363.9" width="231.1" height="206.5" fill="none" stroke="#000" stroke-width="1.75"/><line x1="61.9" y1="378.95" x2="64.9" y2="378.95" stroke="#000" stroke-width="1.3"/><text x="61.7" y="385.35" font-size="17.8" text-anchor="end" textLength="34.4" lengthAdjust="spacingAndGlyphs" font-family="Liberation Sans, sans-serif" font-weight="bold">20:1</text><line x1="61.9" y1="401.02" x2="64.9" y2="401.02" stroke="#000" stroke-width="1.3"/><text x="61.7" y="407.42" font-size="17.8" text-anchor="end" textLength="34.4" lengthAdjust="spacingAndGlyphs" font-family="Liberation Sans, sans-serif" font-weight="bold">10:1</text><line x1="61.9" y1="423.09" x2="64.9" y2="423.09" stroke="#000" stroke-width="1.3"/><text x="61.7" y="429.49" font-size="17.8" text-anchor="end" textLength="24.8" lengthAdjust="spacingAndGlyphs" font-family="Liberation Sans, sans-serif" font-weight="bold">5:1</text><line x1="61.9" y1="445.16" x2="64.9" y2="445.16" stroke="#000" stroke-width="1.3"/><text x="61.7" y="451.56" font-size="17.8" text-anchor="end" textLength="24.8" lengthAdjust="spacingAndGlyphs" font-family="Liberation Sans, sans-serif" font-weight="bold">2:1</text><line x1="61.9" y1="467.22" x2="64.9" y2="467.22" stroke="#000" stroke-width="1.3"/><text x="61.7" y="473.62" font-size="17.8" text-anchor="end" textLength="24.8" lengthAdjust="spacingAndGlyphs" font-family="Liberation Sans, sans-serif" font-weight="bold">1:1</text><line x1="61.9" y1="489.29" x2="64.9" y2="489.29" stroke="#000" stroke-width="1.3"/><text x="61.7" y="495.69" font-size="17.8" text-anchor="end" textLength="24.8" lengthAdjust="spacingAndGlyphs" font-family="Liberation Sans, sans-serif" font-weight="bold">1:2</text><line x1="61.9" y1="511.36" x2="64.9" y2="511.36" stroke="#000" stroke-width="1.3"/><text x="61.7" y="517.76" font-size="17.8" text-anchor="end" textLength="24.8" lengthAdjust="spacingAndGlyphs" font-family="Liberation Sans, sans-serif" font-weight="bold">1:5</text><line x1="61.9" y1="533.43" x2="64.9" y2="533.43" stroke="#000" stroke-width="1.3"/><text x="61.7" y="539.83" font-size="17.8" text-anchor="end" textLength="34.4" lengthAdjust="spacingAndGlyphs" font-family="Liberation Sans, sans-serif" font-weight="bold">1:10</text><line x1="61.9" y1="555.5" x2="64.9" y2="555.5" stroke="#000" stroke-width="1.3"/><text x="61.7" y="561.9" font-size="17.8" text-anchor="end" textLength="34.4" lengthAdjust="spacingAndGlyphs" font-family="Liberation Sans, sans-serif" font-weight="bold">1:20</text><line x1="64.9" y1="570.4" x2="64.9" y2="573.6" stroke="#000" stroke-width="1.7"/><text x="64.9" y="589.6" font-size="17.9" text-anchor="middle" textLength="24.2" lengthAdjust="spacingAndGlyphs" font-family="Liberation Sans, sans-serif" font-weight="bold">0.0</text><line x1="122.68" y1="570.4" x2="122.68" y2="573.6" stroke="#000" stroke-width="1.7"/><text x="122.68" y="589.6" font-size="17.9" text-anchor="middle" textLength="24.2" lengthAdjust="spacingAndGlyphs" font-family="Liberation Sans, sans-serif" font-weight="bold">0.5</text><line x1="180.45" y1="570.4" x2="180.45" y2="573.6" stroke="#000" stroke-width="1.7"/><text x="180.45" y="589.6" font-size="17.9" text-anchor="middle" textLength="24.2" lengthAdjust="spacingAndGlyphs" font-family="Liberation Sans, sans-serif" font-weight="bold">1.0</text><line x1="238.22" y1="570.4" x2="238.22" y2="573.6" stroke="#000" stroke-width="1.7"/><text x="238.22" y="589.6" font-size="17.9" text-anchor="middle" textLength="24.2" lengthAdjust="spacingAndGlyphs" font-family="Liberation Sans, sans-serif" font-weight="bold">1.5</text><line x1="296" y1="570.4" x2="296" y2="573.6" stroke="#000" stroke-width="1.7"/><text x="296" y="589.6" font-size="17.9" text-anchor="middle" textLength="24.2" lengthAdjust="spacingAndGlyphs" font-family="Liberation Sans, sans-serif" font-weight="bold">2.0</text><text x="180.45" y="611.7" font-size="18" text-anchor="middle" textLength="17.6" lengthAdjust="spacingAndGlyphs" font-family="Liberation Sans, sans-serif" font-weight="bold">CI</text><text transform="translate(16.5 459.85) rotate(-90)" font-size="16.8" text-anchor="middle" textLength="133.6" lengthAdjust="spacingAndGlyphs" font-family="Liberation Sans, sans-serif" font-weight="bold">NIRB:DOX Ratio</text><text x="107.8" y="336.85" font-size="23.2" textLength="145.7" lengthAdjust="spacingAndGlyphs" font-family="Liberation Sans, sans-serif" font-weight="bold">HEYA8 Fa 0.5</text></g>
<g><rect x="441.1" y="364.1" width="104.11" height="206.3" fill="#c5e0b4"/><rect x="545.21" y="364.1" width="23.14" height="206.3" fill="#ede3a0"/><rect x="568.34" y="364.1" width="104.11" height="206.3" fill="#e98b8b"/><line x1="545.21" y1="364.1" x2="545.21" y2="570.4" stroke="#000" stroke-width="0.82" stroke-dasharray="1.05 1.15"/><line x1="568.34" y1="364.1" x2="568.34" y2="570.4" stroke="#000" stroke-width="0.82" stroke-dasharray="1.05 1.15"/><line x1="533.33" y1="378.92" x2="550.91" y2="378.92" stroke="#000" stroke-width="1.9"/><line x1="533.33" y1="375.22" x2="533.33" y2="382.62" stroke="#000" stroke-width="2"/><line x1="550.91" y1="375.22" x2="550.91" y2="382.62" stroke="#000" stroke-width="2"/><line x1="542.53" y1="371.92" x2="542.53" y2="385.92" stroke="#111" stroke-width="0.8"/><path d="M529.85 377.02L531.75 378.92L529.85 380.82L527.95 378.92Z" fill="#43005f"/><path d="M542.73 373.54L544.63 375.44L542.73 377.34L540.83 375.44Z" fill="#43005f"/><path d="M545.59 380.49L547.49 382.39L545.59 384.29L543.69 382.39Z" fill="#43005f"/><path d="M550.91 377.02L552.81 378.92L550.91 380.82L549.01 378.92Z" fill="#43005f"/><line x1="534.96" y1="401.02" x2="552.34" y2="401.02" stroke="#000" stroke-width="1.9"/><line x1="534.96" y1="397.32" x2="534.96" y2="404.72" stroke="#000" stroke-width="2"/><line x1="552.34" y1="397.32" x2="552.34" y2="404.72" stroke="#000" stroke-width="2"/><line x1="543.55" y1="394.02" x2="543.55" y2="408.02" stroke="#111" stroke-width="0.8"/><path d="M530.06 403.02L532.06 399.42L528.06 399.42Z" fill="#80008c"/><path d="M544.77 397.3L546.77 393.7L542.77 393.7Z" fill="#80008c"/><path d="M543.14 403.02L545.14 399.42L541.14 399.42Z" fill="#80008c"/><path d="M545.59 408.74L547.59 405.14L543.59 405.14Z" fill="#80008c"/><path d="M552.34 403.02L554.34 399.42L550.34 399.42Z" fill="#80008c"/><line x1="527.2" y1="423.13" x2="568.07" y2="423.13" stroke="#000" stroke-width="1.55"/><line x1="527.2" y1="419.43" x2="527.2" y2="426.83" stroke="#000" stroke-width="2"/><line x1="568.07" y1="419.43" x2="568.07" y2="426.83" stroke="#000" stroke-width="2"/><line x1="547.84" y1="416.13" x2="547.84" y2="430.13" stroke="#111" stroke-width="0.8"/><path d="M530.26 417.45L532.26 421.05L528.26 421.05Z" fill="#a400c8"/><path d="M528.83 424.81L530.83 428.41L526.83 428.41Z" fill="#a400c8"/><path d="M545.18 421.13L547.18 424.73L543.18 424.73Z" fill="#a400c8"/><path d="M555.4 421.13L557.4 424.73L553.4 424.73Z" fill="#a400c8"/><path d="M578.5 421.13L580.5 424.73L576.5 424.73Z" fill="#a400c8"/><line x1="551.93" y1="445.23" x2="558.47" y2="445.23" stroke="#000" stroke-width="1.9"/><line x1="551.93" y1="441.53" x2="551.93" y2="448.93" stroke="#000" stroke-width="2"/><line x1="558.47" y1="441.53" x2="558.47" y2="448.93" stroke="#000" stroke-width="2"/><line x1="555.4" y1="438.23" x2="555.4" y2="452.23" stroke="#111" stroke-width="0.8"/><rect x="552.17" y="439.75" width="3.6" height="3.6" fill="#000080"/><rect x="558.71" y="443.43" width="3.6" height="3.6" fill="#000080"/><rect x="549.51" y="446.5" width="3.6" height="3.6" fill="#000080"/><rect x="553.6" y="446.5" width="3.6" height="3.6" fill="#000080"/><line x1="525.77" y1="467.34" x2="561.53" y2="467.34" stroke="#000" stroke-width="1.9"/><line x1="525.77" y1="463.64" x2="525.77" y2="471.04" stroke="#000" stroke-width="2"/><line x1="561.53" y1="463.64" x2="561.53" y2="471.04" stroke="#000" stroke-width="2"/><line x1="543.75" y1="460.34" x2="543.75" y2="474.34" stroke="#111" stroke-width="0.8"/><circle cx="521.27" cy="467.34" r="1.9" fill="#0000b0"/><circle cx="532.51" cy="467.34" r="1.9" fill="#0000b0"/><circle cx="540.28" cy="467.34" r="1.9" fill="#0000b0"/><circle cx="561.33" cy="463.86" r="1.9" fill="#0000b0"/><circle cx="562.15" cy="471.02" r="1.9" fill="#0000b0"/><line x1="559.9" y1="489.44" x2="570.32" y2="489.44" stroke="#000" stroke-width="1.9"/><line x1="559.9" y1="485.74" x2="559.9" y2="493.14" stroke="#000" stroke-width="2"/><line x1="570.32" y1="485.74" x2="570.32" y2="493.14" stroke="#000" stroke-width="2"/><line x1="565.01" y1="482.44" x2="565.01" y2="496.44" stroke="#111" stroke-width="0.8"/><path d="M558.06 487.54L559.96 489.44L558.06 491.34L556.16 489.44Z" fill="#0000ff"/><path d="M564.8 483.86L566.7 485.76L564.8 487.66L562.9 485.76Z" fill="#0000ff"/><path d="M570.73 483.86L572.63 485.76L570.73 487.66L568.83 485.76Z" fill="#0000ff"/><path d="M566.85 491.02L568.75 492.92L566.85 494.82L564.95 492.92Z" fill="#0000ff"/><line x1="552.34" y1="511.55" x2="568.07" y2="511.55" stroke="#000" stroke-width="1.9"/><line x1="552.34" y1="507.85" x2="552.34" y2="515.25" stroke="#000" stroke-width="2"/><line x1="568.07" y1="507.85" x2="568.07" y2="515.25" stroke="#000" stroke-width="2"/><line x1="560.1" y1="504.55" x2="560.1" y2="518.55" stroke="#111" stroke-width="0.8"/><path d="M546.61 513.55L548.61 509.95L544.61 509.95Z" fill="#1a4f78"/><path d="M565.01 509.46L567.01 505.86L563.01 505.86Z" fill="#1a4f78"/><path d="M558.47 513.55L560.47 509.95L556.47 509.95Z" fill="#1a4f78"/><path d="M563.17 517.02L565.17 513.42L561.17 513.42Z" fill="#1a4f78"/><path d="M567.26 516.61L569.26 513.01L565.26 513.01Z" fill="#1a4f78"/><line x1="545.8" y1="533.65" x2="567.66" y2="533.65" stroke="#000" stroke-width="1.55"/><line x1="545.8" y1="529.95" x2="545.8" y2="537.35" stroke="#000" stroke-width="2"/><line x1="567.66" y1="529.95" x2="567.66" y2="537.35" stroke="#000" stroke-width="2"/><line x1="557.04" y1="526.65" x2="557.04" y2="540.65" stroke="#111" stroke-width="0.8"/><path d="M543.55 531.65L545.55 535.25L541.55 535.25Z" fill="#1a82ad"/><path d="M552.13 528.18L554.13 531.78L550.13 531.78Z" fill="#1a82ad"/><path d="M554.99 535.33L556.99 538.93L552.99 538.93Z" fill="#1a82ad"/><path d="M562.55 531.65L564.55 535.25L560.55 535.25Z" fill="#1a82ad"/><path d="M572.36 531.65L574.36 535.25L570.36 535.25Z" fill="#1a82ad"/><line x1="529.85" y1="555.76" x2="559.49" y2="555.76" stroke="#000" stroke-width="1.15"/><line x1="529.85" y1="552.06" x2="529.85" y2="559.46" stroke="#000" stroke-width="2"/><line x1="559.49" y1="552.06" x2="559.49" y2="559.46" stroke="#000" stroke-width="2"/><line x1="544.77" y1="548.76" x2="544.77" y2="562.76" stroke="#111" stroke-width="0.8"/><rect x="529.08" y="550.28" width="3.6" height="3.6" fill="#1a98bd"/><rect x="560.14" y="550.28" width="3.6" height="3.6" fill="#1a98bd"/><rect x="534.8" y="553.96" width="3.6" height="3.6" fill="#1a98bd"/><rect x="550.54" y="553.96" width="3.6" height="3.6" fill="#1a98bd"/><rect x="526.01" y="557.02" width="3.6" height="3.6" fill="#1a98bd"/><rect x="557.69" y="557.02" width="3.6" height="3.6" fill="#1a98bd"/><rect x="441.1" y="364.1" width="231.35" height="206.3" fill="none" stroke="#000" stroke-width="1.75"/><line x1="438.1" y1="378.92" x2="441.1" y2="378.92" stroke="#000" stroke-width="1.3"/><text x="437.9" y="385.32" font-size="17.8" text-anchor="end" textLength="34.4" lengthAdjust="spacingAndGlyphs" font-family="Liberation Sans, sans-serif" font-weight="bold">20:1</text><line x1="438.1" y1="401.02" x2="441.1" y2="401.02" stroke="#000" stroke-width="1.3"/><text x="437.9" y="407.42" font-size="17.8" text-anchor="end" textLength="34.4" lengthAdjust="spacingAndGlyphs" font-family="Liberation Sans, sans-serif" font-weight="bold">10:1</text><line x1="438.1" y1="423.13" x2="441.1" y2="423.13" stroke="#000" stroke-width="1.3"/><text x="437.9" y="429.53" font-size="17.8" text-anchor="end" textLength="24.8" lengthAdjust="spacingAndGlyphs" font-family="Liberation Sans, sans-serif" font-weight="bold">5:1</text><line x1="438.1" y1="445.23" x2="441.1" y2="445.23" stroke="#000" stroke-width="1.3"/><text x="437.9" y="451.63" font-size="17.8" text-anchor="end" textLength="24.8" lengthAdjust="spacingAndGlyphs" font-family="Liberation Sans, sans-serif" font-weight="bold">2:1</text><line x1="438.1" y1="467.34" x2="441.1" y2="467.34" stroke="#000" stroke-width="1.3"/><text x="437.9" y="473.74" font-size="17.8" text-anchor="end" textLength="24.8" lengthAdjust="spacingAndGlyphs" font-family="Liberation Sans, sans-serif" font-weight="bold">1:1</text><line x1="438.1" y1="489.44" x2="441.1" y2="489.44" stroke="#000" stroke-width="1.3"/><text x="437.9" y="495.84" font-size="17.8" text-anchor="end" textLength="24.8" lengthAdjust="spacingAndGlyphs" font-family="Liberation Sans, sans-serif" font-weight="bold">1:2</text><line x1="438.1" y1="511.55" x2="441.1" y2="511.55" stroke="#000" stroke-width="1.3"/><text x="437.9" y="517.95" font-size="17.8" text-anchor="end" textLength="24.8" lengthAdjust="spacingAndGlyphs" font-family="Liberation Sans, sans-serif" font-weight="bold">1:5</text><line x1="438.1" y1="533.65" x2="441.1" y2="533.65" stroke="#000" stroke-width="1.3"/><text x="437.9" y="540.05" font-size="17.8" text-anchor="end" textLength="34.4" lengthAdjust="spacingAndGlyphs" font-family="Liberation Sans, sans-serif" font-weight="bold">1:10</text><line x1="438.1" y1="555.76" x2="441.1" y2="555.76" stroke="#000" stroke-width="1.3"/><text x="437.9" y="562.16" font-size="17.8" text-anchor="end" textLength="34.4" lengthAdjust="spacingAndGlyphs" font-family="Liberation Sans, sans-serif" font-weight="bold">1:20</text><line x1="441.1" y1="570.4" x2="441.1" y2="573.6" stroke="#000" stroke-width="1.7"/><text x="441.1" y="589.6" font-size="17.9" text-anchor="middle" textLength="24.2" lengthAdjust="spacingAndGlyphs" font-family="Liberation Sans, sans-serif" font-weight="bold">0.0</text><line x1="498.94" y1="570.4" x2="498.94" y2="573.6" stroke="#000" stroke-width="1.7"/><text x="498.94" y="589.6" font-size="17.9" text-anchor="middle" textLength="24.2" lengthAdjust="spacingAndGlyphs" font-family="Liberation Sans, sans-serif" font-weight="bold">0.5</text><line x1="556.78" y1="570.4" x2="556.78" y2="573.6" stroke="#000" stroke-width="1.7"/><text x="556.78" y="589.6" font-size="17.9" text-anchor="middle" textLength="24.2" lengthAdjust="spacingAndGlyphs" font-family="Liberation Sans, sans-serif" font-weight="bold">1.0</text><line x1="614.61" y1="570.4" x2="614.61" y2="573.6" stroke="#000" stroke-width="1.7"/><text x="614.61" y="589.6" font-size="17.9" text-anchor="middle" textLength="24.2" lengthAdjust="spacingAndGlyphs" font-family="Liberation Sans, sans-serif" font-weight="bold">1.5</text><line x1="672.45" y1="570.4" x2="672.45" y2="573.6" stroke="#000" stroke-width="1.7"/><text x="672.45" y="589.6" font-size="17.9" text-anchor="middle" textLength="24.2" lengthAdjust="spacingAndGlyphs" font-family="Liberation Sans, sans-serif" font-weight="bold">2.0</text><text x="556.78" y="611.9" font-size="18" text-anchor="middle" textLength="17.6" lengthAdjust="spacingAndGlyphs" font-family="Liberation Sans, sans-serif" font-weight="bold">CI</text><text transform="translate(392.7 459.95) rotate(-90)" font-size="16.8" text-anchor="middle" textLength="133.6" lengthAdjust="spacingAndGlyphs" font-family="Liberation Sans, sans-serif" font-weight="bold">NIRB:DOX Ratio</text><text x="478" y="336.85" font-size="23.2" textLength="158" lengthAdjust="spacingAndGlyphs" font-family="Liberation Sans, sans-serif" font-weight="bold">HEYA8 Fa 0.75</text></g>
<g><rect x="64.9" y="678.1" width="104" height="206" fill="#c5e0b4"/><rect x="168.9" y="678.1" width="23.11" height="206" fill="#ede3a0"/><rect x="192" y="678.1" width="104" height="206" fill="#e98b8b"/><line x1="168.9" y1="678.1" x2="168.9" y2="884.1" stroke="#000" stroke-width="0.82" stroke-dasharray="1.05 1.15"/><line x1="192" y1="678.1" x2="192" y2="884.1" stroke="#000" stroke-width="0.82" stroke-dasharray="1.05 1.15"/><line x1="159.31" y1="692.44" x2="203.11" y2="692.44" stroke="#000" stroke-width="1.9"/><line x1="159.31" y1="688.74" x2="159.31" y2="696.14" stroke="#000" stroke-width="2"/><line x1="203.11" y1="688.74" x2="203.11" y2="696.14" stroke="#000" stroke-width="2"/><line x1="181.21" y1="685.44" x2="181.21" y2="699.44" stroke="#111" stroke-width="0.8"/><path d="M153.47 690.54L155.37 692.44L153.47 694.34L151.57 692.44Z" fill="#43005f"/><path d="M176.25 690.54L178.15 692.44L176.25 694.34L174.35 692.44Z" fill="#43005f"/><path d="M191.43 690.54L193.33 692.44L191.43 694.34L189.53 692.44Z" fill="#43005f"/><path d="M203.11 690.54L205.01 692.44L203.11 694.34L201.21 692.44Z" fill="#43005f"/><line x1="130.99" y1="714.53" x2="190.26" y2="714.53" stroke="#000" stroke-width="1.55"/><line x1="130.99" y1="710.83" x2="130.99" y2="718.23" stroke="#000" stroke-width="2"/><line x1="190.26" y1="710.83" x2="190.26" y2="718.23" stroke="#000" stroke-width="2"/><line x1="160.19" y1="707.53" x2="160.19" y2="721.53" stroke="#111" stroke-width="0.8"/><path d="M124.86 716.53L126.86 712.93L122.86 712.93Z" fill="#80008c"/><path d="M150.85 716.53L152.85 712.93L148.85 712.93Z" fill="#80008c"/><path d="M172.45 716.53L174.45 712.93L170.45 712.93Z" fill="#80008c"/><path d="M193.18 716.53L195.18 712.93L191.18 712.93Z" fill="#80008c"/><line x1="142.67" y1="736.62" x2="208.95" y2="736.62" stroke="#000" stroke-width="1.9"/><line x1="142.67" y1="732.92" x2="142.67" y2="740.32" stroke="#000" stroke-width="2"/><line x1="208.95" y1="732.92" x2="208.95" y2="740.32" stroke="#000" stroke-width="2"/><line x1="175.66" y1="729.62" x2="175.66" y2="743.62" stroke="#111" stroke-width="0.8"/><path d="M129.53 734.62L131.53 738.22L127.53 738.22Z" fill="#a400c8"/><path d="M156.39 734.62L158.39 738.22L154.39 738.22Z" fill="#a400c8"/><path d="M182.09 734.62L184.09 738.22L180.09 738.22Z" fill="#a400c8"/><path d="M206.61 731.12L208.61 734.72L204.61 734.72Z" fill="#a400c8"/><path d="M206.91 738.13L208.91 741.73L204.91 741.73Z" fill="#a400c8"/><line x1="144.42" y1="758.72" x2="208.66" y2="758.72" stroke="#000" stroke-width="1.9"/><line x1="144.42" y1="755.02" x2="144.42" y2="762.42" stroke="#000" stroke-width="2"/><line x1="208.66" y1="755.02" x2="208.66" y2="762.42" stroke="#000" stroke-width="2"/><line x1="176.83" y1="751.72" x2="176.83" y2="765.72" stroke="#111" stroke-width="0.8"/><rect x="150.8" y="756.92" width="3.6" height="3.6" fill="#000080"/><rect x="160.43" y="756.92" width="3.6" height="3.6" fill="#000080"/><rect x="165.11" y="756.92" width="3.6" height="3.6" fill="#000080"/><rect x="221.75" y="756.92" width="3.6" height="3.6" fill="#000080"/><line x1="133.91" y1="780.81" x2="210.7" y2="780.81" stroke="#000" stroke-width="1.9"/><line x1="133.91" y1="777.11" x2="133.91" y2="784.51" stroke="#000" stroke-width="2"/><line x1="210.7" y1="777.11" x2="210.7" y2="784.51" stroke="#000" stroke-width="2"/><line x1="172.45" y1="773.81" x2="172.45" y2="787.81" stroke="#111" stroke-width="0.8"/><circle cx="135.96" cy="780.81" r="1.9" fill="#0000b0"/><circle cx="144.13" cy="780.81" r="1.9" fill="#0000b0"/><circle cx="170.99" cy="780.81" r="1.9" fill="#0000b0"/><circle cx="175.66" cy="780.81" r="1.9" fill="#0000b0"/><circle cx="233.77" cy="780.81" r="1.9" fill="#0000b0"/><line x1="122.23" y1="802.91" x2="246.32" y2="802.91" stroke="#000" stroke-width="1.9"/><line x1="122.23" y1="799.21" x2="122.23" y2="806.61" stroke="#000" stroke-width="2"/><line x1="246.32" y1="799.21" x2="246.32" y2="806.61" stroke="#000" stroke-width="2"/><line x1="184.13" y1="795.91" x2="184.13" y2="809.91" stroke="#111" stroke-width="0.8"/><path d="M130.99 801.01L132.89 802.91L130.99 804.81L129.09 802.91Z" fill="#0000ff"/><path d="M157.27 797.21L159.17 799.11L157.27 801.01L155.37 799.11Z" fill="#0000ff"/><path d="M159.31 804.51L161.21 806.41L159.31 808.31L157.41 806.41Z" fill="#0000ff"/><path d="M182.67 801.01L184.57 802.91L182.67 804.81L180.77 802.91Z" fill="#0000ff"/><path d="M289.82 801.01L291.72 802.91L289.82 804.81L287.92 802.91Z" fill="#0000ff"/><line x1="118.44" y1="825" x2="193.77" y2="825" stroke="#000" stroke-width="1.9"/><line x1="118.44" y1="821.3" x2="118.44" y2="828.7" stroke="#000" stroke-width="2"/><line x1="193.77" y1="821.3" x2="193.77" y2="828.7" stroke="#000" stroke-width="2"/><line x1="156.39" y1="818" x2="156.39" y2="832" stroke="#111" stroke-width="0.8"/><path d="M114.64 827L116.64 823.4L112.64 823.4Z" fill="#1a4f78"/><path d="M133.62 827L135.62 823.4L131.62 823.4Z" fill="#1a4f78"/><path d="M160.19 824.08L162.19 820.48L158.19 820.48Z" fill="#1a4f78"/><path d="M158.44 830.79L160.44 827.19L156.44 827.19Z" fill="#1a4f78"/><path d="M214.2 827L216.2 823.4L212.2 823.4Z" fill="#1a4f78"/><line x1="123.69" y1="847.09" x2="206.91" y2="847.09" stroke="#000" stroke-width="1.9"/><line x1="123.69" y1="843.39" x2="123.69" y2="850.79" stroke="#000" stroke-width="2"/><line x1="206.91" y1="843.39" x2="206.91" y2="850.79" stroke="#000" stroke-width="2"/><line x1="165.45" y1="840.09" x2="165.45" y2="854.09" stroke="#111" stroke-width="0.8"/><path d="M105.3 845.09L107.3 848.69L103.3 848.69Z" fill="#1a82ad"/><path d="M149.39 845.09L151.39 848.69L147.39 848.69Z" fill="#1a82ad"/><path d="M173.91 845.09L175.91 848.69L171.91 848.69Z" fill="#1a82ad"/><path d="M181.21 845.09L183.21 848.69L179.21 848.69Z" fill="#1a82ad"/><path d="M217.42 845.09L219.42 848.69L215.42 848.69Z" fill="#1a82ad"/><line x1="109.68" y1="869.19" x2="207.78" y2="869.19" stroke="#000" stroke-width="1.9"/><line x1="109.68" y1="865.49" x2="109.68" y2="872.89" stroke="#000" stroke-width="2"/><line x1="207.78" y1="865.49" x2="207.78" y2="872.89" stroke="#000" stroke-width="2"/><line x1="158.44" y1="862.19" x2="158.44" y2="876.19" stroke="#111" stroke-width="0.8"/><rect x="111.38" y="867.39" width="3.6" height="3.6" fill="#1a98bd"/><rect x="120.43" y="867.39" width="3.6" height="3.6" fill="#1a98bd"/><rect x="152.55" y="867.39" width="3.6" height="3.6" fill="#1a98bd"/><rect x="163.65" y="867.39" width="3.6" height="3.6" fill="#1a98bd"/><rect x="235.76" y="867.39" width="3.6" height="3.6" fill="#1a98bd"/><rect x="64.9" y="678.1" width="231.1" height="206" fill="none" stroke="#000" stroke-width="1.75"/><line x1="61.9" y1="692.44" x2="64.9" y2="692.44" stroke="#000" stroke-width="1.3"/><text x="61.7" y="698.84" font-size="17.8" text-anchor="end" textLength="34.4" lengthAdjust="spacingAndGlyphs" font-family="Liberation Sans, sans-serif" font-weight="bold">20:1</text><line x1="61.9" y1="714.53" x2="64.9" y2="714.53" stroke="#000" stroke-width="1.3"/><text x="61.7" y="720.93" font-size="17.8" text-anchor="end" textLength="34.4" lengthAdjust="spacingAndGlyphs" font-family="Liberation Sans, sans-serif" font-weight="bold">10:1</text><line x1="61.9" y1="736.62" x2="64.9" y2="736.62" stroke="#000" stroke-width="1.3"/><text x="61.7" y="743.02" font-size="17.8" text-anchor="end" textLength="24.8" lengthAdjust="spacingAndGlyphs" font-family="Liberation Sans, sans-serif" font-weight="bold">5:1</text><line x1="61.9" y1="758.72" x2="64.9" y2="758.72" stroke="#000" stroke-width="1.3"/><text x="61.7" y="765.12" font-size="17.8" text-anchor="end" textLength="24.8" lengthAdjust="spacingAndGlyphs" font-family="Liberation Sans, sans-serif" font-weight="bold">2:1</text><line x1="61.9" y1="780.81" x2="64.9" y2="780.81" stroke="#000" stroke-width="1.3"/><text x="61.7" y="787.21" font-size="17.8" text-anchor="end" textLength="24.8" lengthAdjust="spacingAndGlyphs" font-family="Liberation Sans, sans-serif" font-weight="bold">1:1</text><line x1="61.9" y1="802.91" x2="64.9" y2="802.91" stroke="#000" stroke-width="1.3"/><text x="61.7" y="809.31" font-size="17.8" text-anchor="end" textLength="24.8" lengthAdjust="spacingAndGlyphs" font-family="Liberation Sans, sans-serif" font-weight="bold">1:2</text><line x1="61.9" y1="825" x2="64.9" y2="825" stroke="#000" stroke-width="1.3"/><text x="61.7" y="831.4" font-size="17.8" text-anchor="end" textLength="24.8" lengthAdjust="spacingAndGlyphs" font-family="Liberation Sans, sans-serif" font-weight="bold">1:5</text><line x1="61.9" y1="847.09" x2="64.9" y2="847.09" stroke="#000" stroke-width="1.3"/><text x="61.7" y="853.49" font-size="17.8" text-anchor="end" textLength="34.4" lengthAdjust="spacingAndGlyphs" font-family="Liberation Sans, sans-serif" font-weight="bold">1:10</text><line x1="61.9" y1="869.19" x2="64.9" y2="869.19" stroke="#000" stroke-width="1.3"/><text x="61.7" y="875.59" font-size="17.8" text-anchor="end" textLength="34.4" lengthAdjust="spacingAndGlyphs" font-family="Liberation Sans, sans-serif" font-weight="bold">1:20</text><line x1="64.9" y1="884.1" x2="64.9" y2="887.3" stroke="#000" stroke-width="1.7"/><text x="64.9" y="903" font-size="17.9" text-anchor="middle" textLength="24.2" lengthAdjust="spacingAndGlyphs" font-family="Liberation Sans, sans-serif" font-weight="bold">0.0</text><line x1="122.68" y1="884.1" x2="122.68" y2="887.3" stroke="#000" stroke-width="1.7"/><text x="122.68" y="903" font-size="17.9" text-anchor="middle" textLength="24.2" lengthAdjust="spacingAndGlyphs" font-family="Liberation Sans, sans-serif" font-weight="bold">0.5</text><line x1="180.45" y1="884.1" x2="180.45" y2="887.3" stroke="#000" stroke-width="1.7"/><text x="180.45" y="903" font-size="17.9" text-anchor="middle" textLength="24.2" lengthAdjust="spacingAndGlyphs" font-family="Liberation Sans, sans-serif" font-weight="bold">1.0</text><line x1="238.22" y1="884.1" x2="238.22" y2="887.3" stroke="#000" stroke-width="1.7"/><text x="238.22" y="903" font-size="17.9" text-anchor="middle" textLength="24.2" lengthAdjust="spacingAndGlyphs" font-family="Liberation Sans, sans-serif" font-weight="bold">1.5</text><line x1="296" y1="884.1" x2="296" y2="887.3" stroke="#000" stroke-width="1.7"/><text x="296" y="903" font-size="17.9" text-anchor="middle" textLength="24.2" lengthAdjust="spacingAndGlyphs" font-family="Liberation Sans, sans-serif" font-weight="bold">2.0</text><text x="180.45" y="925.6" font-size="18" text-anchor="middle" textLength="17.6" lengthAdjust="spacingAndGlyphs" font-family="Liberation Sans, sans-serif" font-weight="bold">CI</text><text transform="translate(16.5 773.8) rotate(-90)" font-size="16.8" text-anchor="middle" textLength="133.6" lengthAdjust="spacingAndGlyphs" font-family="Liberation Sans, sans-serif" font-weight="bold">NIRB:DOX Ratio</text><text x="114" y="650.25" font-size="23.2" textLength="133.5" lengthAdjust="spacingAndGlyphs" font-family="Liberation Sans, sans-serif" font-weight="bold">PEO1 Fa 0.5</text></g>
<g><rect x="441.1" y="678" width="104.08" height="205.85" fill="#c5e0b4"/><rect x="545.18" y="678" width="23.13" height="205.85" fill="#ede3a0"/><rect x="568.32" y="678" width="104.08" height="205.85" fill="#e98b8b"/><line x1="545.18" y1="678" x2="545.18" y2="883.85" stroke="#000" stroke-width="0.82" stroke-dasharray="1.05 1.15"/><line x1="568.32" y1="678" x2="568.32" y2="883.85" stroke="#000" stroke-width="0.82" stroke-dasharray="1.05 1.15"/><line x1="535.37" y1="692.49" x2="552.34" y2="692.49" stroke="#000" stroke-width="1.9"/><line x1="535.37" y1="688.79" x2="535.37" y2="696.19" stroke="#000" stroke-width="2"/><line x1="552.34" y1="688.79" x2="552.34" y2="696.19" stroke="#000" stroke-width="2"/><line x1="543.55" y1="685.49" x2="543.55" y2="699.49" stroke="#111" stroke-width="0.8"/><path d="M532.92 690.59L534.82 692.49L532.92 694.39L531.02 692.49Z" fill="#43005f"/><path d="M543.14 690.59L545.04 692.49L543.14 694.39L541.24 692.49Z" fill="#43005f"/><path d="M547.23 690.59L549.13 692.49L547.23 694.39L545.33 692.49Z" fill="#43005f"/><path d="M552.34 690.59L554.24 692.49L552.34 694.39L550.44 692.49Z" fill="#43005f"/><line x1="532.31" y1="714.6" x2="565.01" y2="714.6" stroke="#000" stroke-width="1.55"/><line x1="532.31" y1="710.9" x2="532.31" y2="718.3" stroke="#000" stroke-width="2"/><line x1="565.01" y1="710.9" x2="565.01" y2="718.3" stroke="#000" stroke-width="2"/><line x1="548.25" y1="707.6" x2="548.25" y2="721.6" stroke="#111" stroke-width="0.8"/><path d="M532.31 716.6L534.31 713L530.31 713Z" fill="#80008c"/><path d="M546.82 712.92L548.82 709.32L544.82 709.32Z" fill="#80008c"/><path d="M547.23 720.08L549.23 716.48L545.23 716.48Z" fill="#80008c"/><path d="M570.32 716.6L572.32 713L568.32 713Z" fill="#80008c"/><line x1="536.6" y1="736.71" x2="562.96" y2="736.71" stroke="#000" stroke-width="1.55"/><line x1="536.6" y1="733.01" x2="536.6" y2="740.41" stroke="#000" stroke-width="2"/><line x1="562.96" y1="733.01" x2="562.96" y2="740.41" stroke="#000" stroke-width="2"/><line x1="549.68" y1="729.71" x2="549.68" y2="743.71" stroke="#111" stroke-width="0.8"/><path d="M530.06 734.71L532.06 738.31L528.06 738.31Z" fill="#a400c8"/><path d="M542.73 734.71L544.73 738.31L540.73 738.31Z" fill="#a400c8"/><path d="M557.04 731.24L559.04 734.84L555.04 734.84Z" fill="#a400c8"/><path d="M556.42 738.19L558.42 741.79L554.42 741.79Z" fill="#a400c8"/><path d="M562.55 734.71L564.55 738.31L560.55 738.31Z" fill="#a400c8"/><line x1="542.12" y1="758.82" x2="555.81" y2="758.82" stroke="#000" stroke-width="1.9"/><line x1="542.12" y1="755.12" x2="542.12" y2="762.52" stroke="#000" stroke-width="2"/><line x1="555.81" y1="755.12" x2="555.81" y2="762.52" stroke="#000" stroke-width="2"/><line x1="548.86" y1="751.82" x2="548.86" y2="765.82" stroke="#111" stroke-width="0.8"/><rect x="543.79" y="753.34" width="3.6" height="3.6" fill="#000080"/><rect x="540.93" y="757.02" width="3.6" height="3.6" fill="#000080"/><rect x="554.62" y="757.02" width="3.6" height="3.6" fill="#000080"/><rect x="547.06" y="760.49" width="3.6" height="3.6" fill="#000080"/><line x1="532.51" y1="780.93" x2="571.14" y2="780.93" stroke="#000" stroke-width="1.55"/><line x1="532.51" y1="777.23" x2="532.51" y2="784.63" stroke="#000" stroke-width="2"/><line x1="571.14" y1="777.23" x2="571.14" y2="784.63" stroke="#000" stroke-width="2"/><line x1="551.72" y1="773.93" x2="551.72" y2="787.93" stroke="#111" stroke-width="0.8"/><circle cx="528.83" cy="780.93" r="1.9" fill="#0000b0"/><circle cx="533.33" cy="780.93" r="1.9" fill="#0000b0"/><circle cx="563.17" cy="777.45" r="1.9" fill="#0000b0"/><circle cx="561.94" cy="784.61" r="1.9" fill="#0000b0"/><circle cx="571.75" cy="780.93" r="1.9" fill="#0000b0"/><line x1="527.4" y1="803.04" x2="589.53" y2="803.04" stroke="#000" stroke-width="1.55"/><line x1="527.4" y1="799.34" x2="527.4" y2="806.74" stroke="#000" stroke-width="2"/><line x1="589.53" y1="799.34" x2="589.53" y2="806.74" stroke="#000" stroke-width="2"/><line x1="558.47" y1="796.04" x2="558.47" y2="810.04" stroke="#111" stroke-width="0.8"/><path d="M535.99 797.46L537.89 799.36L535.99 801.26L534.09 799.36Z" fill="#0000ff"/><path d="M534.55 804.61L536.45 806.51L534.55 808.41L532.65 806.51Z" fill="#0000ff"/><path d="M544.77 801.14L546.67 803.04L544.77 804.94L542.87 803.04Z" fill="#0000ff"/><path d="M568.07 801.14L569.97 803.04L568.07 804.94L566.17 803.04Z" fill="#0000ff"/><path d="M608.13 801.14L610.03 803.04L608.13 804.94L606.23 803.04Z" fill="#0000ff"/><line x1="526.99" y1="825.15" x2="567.46" y2="825.15" stroke="#000" stroke-width="1.9"/><line x1="526.99" y1="821.45" x2="526.99" y2="828.85" stroke="#000" stroke-width="2"/><line x1="567.46" y1="821.45" x2="567.46" y2="828.85" stroke="#000" stroke-width="2"/><line x1="547.23" y1="818.15" x2="547.23" y2="832.15" stroke="#111" stroke-width="0.8"/><path d="M518.61 827.15L520.61 823.55L516.61 823.55Z" fill="#1a4f78"/><path d="M543.55 827.15L545.55 823.55L541.55 823.55Z" fill="#1a4f78"/><path d="M547.64 827.15L549.64 823.55L545.64 823.55Z" fill="#1a4f78"/><path d="M551.31 827.15L553.31 823.55L549.31 823.55Z" fill="#1a4f78"/><path d="M574.61 827.15L576.61 823.55L572.61 823.55Z" fill="#1a4f78"/><line x1="526.99" y1="847.25" x2="577.27" y2="847.25" stroke="#000" stroke-width="1.55"/><line x1="526.99" y1="843.55" x2="526.99" y2="850.95" stroke="#000" stroke-width="2"/><line x1="577.27" y1="843.55" x2="577.27" y2="850.95" stroke="#000" stroke-width="2"/><line x1="552.34" y1="840.25" x2="552.34" y2="854.25" stroke="#111" stroke-width="0.8"/><path d="M507.99 845.25L509.99 848.85L505.99 848.85Z" fill="#1a82ad"/><path d="M554.99 845.25L556.99 848.85L552.99 848.85Z" fill="#1a82ad"/><path d="M562.55 845.25L564.55 848.85L560.55 848.85Z" fill="#1a82ad"/><path d="M567.26 841.58L569.26 845.18L565.26 845.18Z" fill="#1a82ad"/><path d="M567.66 848.93L569.66 852.53L565.66 852.53Z" fill="#1a82ad"/><line x1="523.11" y1="869.36" x2="565.01" y2="869.36" stroke="#000" stroke-width="1.9"/><line x1="523.11" y1="865.66" x2="523.11" y2="873.06" stroke="#000" stroke-width="2"/><line x1="565.01" y1="865.66" x2="565.01" y2="873.06" stroke="#000" stroke-width="2"/><line x1="543.75" y1="862.36" x2="543.75" y2="876.36" stroke="#111" stroke-width="0.8"/><rect x="514.16" y="867.56" width="3.6" height="3.6" fill="#1a98bd"/><rect x="535.21" y="867.56" width="3.6" height="3.6" fill="#1a98bd"/><rect x="540.93" y="867.56" width="3.6" height="3.6" fill="#1a98bd"/><rect x="548.29" y="867.56" width="3.6" height="3.6" fill="#1a98bd"/><rect x="571.59" y="867.56" width="3.6" height="3.6" fill="#1a98bd"/><rect x="441.1" y="678" width="231.3" height="205.85" fill="none" stroke="#000" stroke-width="1.75"/><line x1="438.1" y1="692.49" x2="441.1" y2="692.49" stroke="#000" stroke-width="1.3"/><text x="437.9" y="698.89" font-size="17.8" text-anchor="end" textLength="34.4" lengthAdjust="spacingAndGlyphs" font-family="Liberation Sans, sans-serif" font-weight="bold">20:1</text><line x1="438.1" y1="714.6" x2="441.1" y2="714.6" stroke="#000" stroke-width="1.3"/><text x="437.9" y="721" font-size="17.8" text-anchor="end" textLength="34.4" lengthAdjust="spacingAndGlyphs" font-family="Liberation Sans, sans-serif" font-weight="bold">10:1</text><line x1="438.1" y1="736.71" x2="441.1" y2="736.71" stroke="#000" stroke-width="1.3"/><text x="437.9" y="743.11" font-size="17.8" text-anchor="end" textLength="24.8" lengthAdjust="spacingAndGlyphs" font-family="Liberation Sans, sans-serif" font-weight="bold">5:1</text><line x1="438.1" y1="758.82" x2="441.1" y2="758.82" stroke="#000" stroke-width="1.3"/><text x="437.9" y="765.22" font-size="17.8" text-anchor="end" textLength="24.8" lengthAdjust="spacingAndGlyphs" font-family="Liberation Sans, sans-serif" font-weight="bold">2:1</text><line x1="438.1" y1="780.93" x2="441.1" y2="780.93" stroke="#000" stroke-width="1.3"/><text x="437.9" y="787.33" font-size="17.8" text-anchor="end" textLength="24.8" lengthAdjust="spacingAndGlyphs" font-family="Liberation Sans, sans-serif" font-weight="bold">1:1</text><line x1="438.1" y1="803.04" x2="441.1" y2="803.04" stroke="#000" stroke-width="1.3"/><text x="437.9" y="809.44" font-size="17.8" text-anchor="end" textLength="24.8" lengthAdjust="spacingAndGlyphs" font-family="Liberation Sans, sans-serif" font-weight="bold">1:2</text><line x1="438.1" y1="825.15" x2="441.1" y2="825.15" stroke="#000" stroke-width="1.3"/><text x="437.9" y="831.55" font-size="17.8" text-anchor="end" textLength="24.8" lengthAdjust="spacingAndGlyphs" font-family="Liberation Sans, sans-serif" font-weight="bold">1:5</text><line x1="438.1" y1="847.25" x2="441.1" y2="847.25" stroke="#000" stroke-width="1.3"/><text x="437.9" y="853.65" font-size="17.8" text-anchor="end" textLength="34.4" lengthAdjust="spacingAndGlyphs" font-family="Liberation Sans, sans-serif" font-weight="bold">1:10</text><line x1="438.1" y1="869.36" x2="441.1" y2="869.36" stroke="#000" stroke-width="1.3"/><text x="437.9" y="875.76" font-size="17.8" text-anchor="end" textLength="34.4" lengthAdjust="spacingAndGlyphs" font-family="Liberation Sans, sans-serif" font-weight="bold">1:20</text><line x1="441.1" y1="883.85" x2="441.1" y2="887.05" stroke="#000" stroke-width="1.7"/><text x="441.1" y="903.05" font-size="17.9" text-anchor="middle" textLength="24.2" lengthAdjust="spacingAndGlyphs" font-family="Liberation Sans, sans-serif" font-weight="bold">0.0</text><line x1="498.93" y1="883.85" x2="498.93" y2="887.05" stroke="#000" stroke-width="1.7"/><text x="498.93" y="903.05" font-size="17.9" text-anchor="middle" textLength="24.2" lengthAdjust="spacingAndGlyphs" font-family="Liberation Sans, sans-serif" font-weight="bold">0.5</text><line x1="556.75" y1="883.85" x2="556.75" y2="887.05" stroke="#000" stroke-width="1.7"/><text x="556.75" y="903.05" font-size="17.9" text-anchor="middle" textLength="24.2" lengthAdjust="spacingAndGlyphs" font-family="Liberation Sans, sans-serif" font-weight="bold">1.0</text><line x1="614.58" y1="883.85" x2="614.58" y2="887.05" stroke="#000" stroke-width="1.7"/><text x="614.58" y="903.05" font-size="17.9" text-anchor="middle" textLength="24.2" lengthAdjust="spacingAndGlyphs" font-family="Liberation Sans, sans-serif" font-weight="bold">1.5</text><line x1="672.4" y1="883.85" x2="672.4" y2="887.05" stroke="#000" stroke-width="1.7"/><text x="672.4" y="903.05" font-size="17.9" text-anchor="middle" textLength="24.2" lengthAdjust="spacingAndGlyphs" font-family="Liberation Sans, sans-serif" font-weight="bold">2.0</text><text x="556.75" y="925.45" font-size="18" text-anchor="middle" textLength="17.6" lengthAdjust="spacingAndGlyphs" font-family="Liberation Sans, sans-serif" font-weight="bold">CI</text><text transform="translate(392.7 773.62) rotate(-90)" font-size="16.8" text-anchor="middle" textLength="133.6" lengthAdjust="spacingAndGlyphs" font-family="Liberation Sans, sans-serif" font-weight="bold">NIRB:DOX Ratio</text><text x="483.8" y="650.25" font-size="23.2" textLength="146.7" lengthAdjust="spacingAndGlyphs" font-family="Liberation Sans, sans-serif" font-weight="bold">PEO1 Fa 0.75</text></g>
<g><rect x="64.9" y="991.2" width="104" height="205.7" fill="#c5e0b4"/><rect x="168.9" y="991.2" width="23.11" height="205.7" fill="#ede3a0"/><rect x="192" y="991.2" width="104" height="205.7" fill="#e98b8b"/><line x1="168.9" y1="991.2" x2="168.9" y2="1196.9" stroke="#000" stroke-width="0.82" stroke-dasharray="1.05 1.15"/><line x1="192" y1="991.2" x2="192" y2="1196.9" stroke="#000" stroke-width="0.82" stroke-dasharray="1.05 1.15"/><line x1="157.56" y1="1005.79" x2="254.2" y2="1005.79" stroke="#000" stroke-width="1.15"/><line x1="157.56" y1="1002.09" x2="157.56" y2="1009.49" stroke="#000" stroke-width="2"/><line x1="254.2" y1="1002.09" x2="254.2" y2="1009.49" stroke="#000" stroke-width="2"/><line x1="205.15" y1="998.79" x2="205.15" y2="1012.79" stroke="#111" stroke-width="0.8"/><path d="M147.05 1003.89L148.95 1005.79L147.05 1007.69L145.15 1005.79Z" fill="#43005f"/><path d="M187.93 1003.89L189.83 1005.79L187.93 1007.69L186.03 1005.79Z" fill="#43005f"/><path d="M230.85 1003.89L232.75 1005.79L230.85 1007.69L228.95 1005.79Z" fill="#43005f"/><path d="M254.79 1003.89L256.69 1005.79L254.79 1007.69L252.89 1005.79Z" fill="#43005f"/><line x1="121.07" y1="1027.86" x2="205.74" y2="1027.86" stroke="#000" stroke-width="1.9"/><line x1="121.07" y1="1024.16" x2="121.07" y2="1031.56" stroke="#000" stroke-width="2"/><line x1="205.74" y1="1024.16" x2="205.74" y2="1031.56" stroke="#000" stroke-width="2"/><line x1="163.11" y1="1020.86" x2="163.11" y2="1034.86" stroke="#111" stroke-width="0.8"/><path d="M111.43 1029.86L113.43 1026.26L109.43 1026.26Z" fill="#80008c"/><path d="M126.61 1029.86L128.61 1026.26L124.61 1026.26Z" fill="#80008c"/><path d="M175.96 1029.86L177.96 1026.26L173.96 1026.26Z" fill="#80008c"/><path d="M194.93 1029.86L196.93 1026.26L192.93 1026.26Z" fill="#80008c"/><path d="M206.91 1029.86L208.91 1026.26L204.91 1026.26Z" fill="#80008c"/><line x1="149.39" y1="1049.93" x2="211.58" y2="1049.93" stroke="#000" stroke-width="1.9"/><line x1="149.39" y1="1046.23" x2="149.39" y2="1053.63" stroke="#000" stroke-width="2"/><line x1="211.58" y1="1046.23" x2="211.58" y2="1053.63" stroke="#000" stroke-width="2"/><line x1="180.63" y1="1042.93" x2="180.63" y2="1056.93" stroke="#111" stroke-width="0.8"/><path d="M152.6 1047.93L154.6 1051.53L150.6 1051.53Z" fill="#a400c8"/><path d="M156.98 1047.93L158.98 1051.53L154.98 1051.53Z" fill="#a400c8"/><path d="M175.66 1047.93L177.66 1051.53L173.66 1051.53Z" fill="#a400c8"/><path d="M187.05 1047.93L189.05 1051.53L185.05 1051.53Z" fill="#a400c8"/><path d="M230.85 1047.93L232.85 1051.53L228.85 1051.53Z" fill="#a400c8"/><line x1="133.04" y1="1072" x2="203.99" y2="1072" stroke="#000" stroke-width="1.9"/><line x1="133.04" y1="1068.3" x2="133.04" y2="1075.7" stroke="#000" stroke-width="2"/><line x1="203.99" y1="1068.3" x2="203.99" y2="1075.7" stroke="#000" stroke-width="2"/><line x1="168.36" y1="1065" x2="168.36" y2="1079" stroke="#111" stroke-width="0.8"/><rect x="131.82" y="1070.2" width="3.6" height="3.6" fill="#000080"/><rect x="151.67" y="1070.2" width="3.6" height="3.6" fill="#000080"/><rect x="168.02" y="1070.2" width="3.6" height="3.6" fill="#000080"/><rect x="215.03" y="1070.2" width="3.6" height="3.6" fill="#000080"/><line x1="149.68" y1="1094.07" x2="203.69" y2="1094.07" stroke="#000" stroke-width="1.9"/><line x1="149.68" y1="1090.37" x2="149.68" y2="1097.77" stroke="#000" stroke-width="2"/><line x1="203.69" y1="1090.37" x2="203.69" y2="1097.77" stroke="#000" stroke-width="2"/><line x1="176.54" y1="1087.07" x2="176.54" y2="1101.07" stroke="#111" stroke-width="0.8"/><circle cx="136.83" cy="1094.07" r="1.9" fill="#0000b0"/><circle cx="162.82" cy="1094.07" r="1.9" fill="#0000b0"/><circle cx="183.26" cy="1094.07" r="1.9" fill="#0000b0"/><circle cx="199.31" cy="1090.57" r="1.9" fill="#0000b0"/><circle cx="200.77" cy="1097.58" r="1.9" fill="#0000b0"/><line x1="167.49" y1="1116.14" x2="230.26" y2="1116.14" stroke="#000" stroke-width="1.9"/><line x1="167.49" y1="1112.44" x2="167.49" y2="1119.84" stroke="#000" stroke-width="2"/><line x1="230.26" y1="1112.44" x2="230.26" y2="1119.84" stroke="#000" stroke-width="2"/><line x1="198.73" y1="1109.14" x2="198.73" y2="1123.14" stroke="#111" stroke-width="0.8"/><path d="M170.41 1114.24L172.31 1116.14L170.41 1118.04L168.51 1116.14Z" fill="#0000ff"/><path d="M176.83 1114.24L178.73 1116.14L176.83 1118.04L174.93 1116.14Z" fill="#0000ff"/><path d="M207.78 1114.24L209.68 1116.14L207.78 1118.04L205.88 1116.14Z" fill="#0000ff"/><path d="M239.61 1114.24L241.51 1116.14L239.61 1118.04L237.71 1116.14Z" fill="#0000ff"/><line x1="149.68" y1="1138.21" x2="231.14" y2="1138.21" stroke="#000" stroke-width="1.9"/><line x1="149.68" y1="1134.51" x2="149.68" y2="1141.91" stroke="#000" stroke-width="2"/><line x1="231.14" y1="1134.51" x2="231.14" y2="1141.91" stroke="#000" stroke-width="2"/><line x1="190.85" y1="1131.21" x2="190.85" y2="1145.21" stroke="#111" stroke-width="0.8"/><path d="M133.62 1140.21L135.62 1136.61L131.62 1136.61Z" fill="#1a4f78"/><path d="M170.12 1140.21L172.12 1136.61L168.12 1136.61Z" fill="#1a4f78"/><path d="M192.01 1140.21L194.01 1136.61L190.01 1136.61Z" fill="#1a4f78"/><path d="M219.17 1140.21L221.17 1136.61L217.17 1136.61Z" fill="#1a4f78"/><path d="M237.56 1140.21L239.56 1136.61L235.56 1136.61Z" fill="#1a4f78"/><line x1="152.31" y1="1160.28" x2="250.12" y2="1160.28" stroke="#000" stroke-width="1.9"/><line x1="152.31" y1="1156.58" x2="152.31" y2="1163.98" stroke="#000" stroke-width="2"/><line x1="250.12" y1="1156.58" x2="250.12" y2="1163.98" stroke="#000" stroke-width="2"/><line x1="200.77" y1="1153.28" x2="200.77" y2="1167.28" stroke="#111" stroke-width="0.8"/><path d="M155.81 1158.28L157.81 1161.88L153.81 1161.88Z" fill="#1a82ad"/><path d="M159.9 1158.28L161.9 1161.88L157.9 1161.88Z" fill="#1a82ad"/><path d="M187.34 1158.28L189.34 1161.88L185.34 1161.88Z" fill="#1a82ad"/><path d="M230.85 1158.28L232.85 1161.88L228.85 1161.88Z" fill="#1a82ad"/><path d="M270.55 1158.28L272.55 1161.88L268.55 1161.88Z" fill="#1a82ad"/><line x1="145.01" y1="1182.35" x2="225.59" y2="1182.35" stroke="#000" stroke-width="1.9"/><line x1="145.01" y1="1178.65" x2="145.01" y2="1186.05" stroke="#000" stroke-width="2"/><line x1="225.59" y1="1178.65" x2="225.59" y2="1186.05" stroke="#000" stroke-width="2"/><line x1="185.01" y1="1175.35" x2="185.01" y2="1189.35" stroke="#111" stroke-width="0.8"/><rect x="128.02" y="1180.55" width="3.6" height="3.6" fill="#1a98bd"/><rect x="161.02" y="1180.55" width="3.6" height="3.6" fill="#1a98bd"/><rect x="189.05" y="1180.55" width="3.6" height="3.6" fill="#1a98bd"/><rect x="207.73" y="1180.55" width="3.6" height="3.6" fill="#1a98bd"/><rect x="231.09" y="1180.55" width="3.6" height="3.6" fill="#1a98bd"/><rect x="64.9" y="991.2" width="231.1" height="205.7" fill="none" stroke="#000" stroke-width="1.75"/><line x1="61.9" y1="1005.79" x2="64.9" y2="1005.79" stroke="#000" stroke-width="1.3"/><text x="61.7" y="1012.19" font-size="17.8" text-anchor="end" textLength="34.4" lengthAdjust="spacingAndGlyphs" font-family="Liberation Sans, sans-serif" font-weight="bold">20:1</text><line x1="61.9" y1="1027.86" x2="64.9" y2="1027.86" stroke="#000" stroke-width="1.3"/><text x="61.7" y="1034.26" font-size="17.8" text-anchor="end" textLength="34.4" lengthAdjust="spacingAndGlyphs" font-family="Liberation Sans, sans-serif" font-weight="bold">10:1</text><line x1="61.9" y1="1049.93" x2="64.9" y2="1049.93" stroke="#000" stroke-width="1.3"/><text x="61.7" y="1056.33" font-size="17.8" text-anchor="end" textLength="24.8" lengthAdjust="spacingAndGlyphs" font-family="Liberation Sans, sans-serif" font-weight="bold">5:1</text><line x1="61.9" y1="1072" x2="64.9" y2="1072" stroke="#000" stroke-width="1.3"/><text x="61.7" y="1078.4" font-size="17.8" text-anchor="end" textLength="24.8" lengthAdjust="spacingAndGlyphs" font-family="Liberation Sans, sans-serif" font-weight="bold">2:1</text><line x1="61.9" y1="1094.07" x2="64.9" y2="1094.07" stroke="#000" stroke-width="1.3"/><text x="61.7" y="1100.47" font-size="17.8" text-anchor="end" textLength="24.8" lengthAdjust="spacingAndGlyphs" font-family="Liberation Sans, sans-serif" font-weight="bold">1:1</text><line x1="61.9" y1="1116.14" x2="64.9" y2="1116.14" stroke="#000" stroke-width="1.3"/><text x="61.7" y="1122.54" font-size="17.8" text-anchor="end" textLength="24.8" lengthAdjust="spacingAndGlyphs" font-family="Liberation Sans, sans-serif" font-weight="bold">1:2</text><line x1="61.9" y1="1138.21" x2="64.9" y2="1138.21" stroke="#000" stroke-width="1.3"/><text x="61.7" y="1144.61" font-size="17.8" text-anchor="end" textLength="24.8" lengthAdjust="spacingAndGlyphs" font-family="Liberation Sans, sans-serif" font-weight="bold">1:5</text><line x1="61.9" y1="1160.28" x2="64.9" y2="1160.28" stroke="#000" stroke-width="1.3"/><text x="61.7" y="1166.68" font-size="17.8" text-anchor="end" textLength="34.4" lengthAdjust="spacingAndGlyphs" font-family="Liberation Sans, sans-serif" font-weight="bold">1:10</text><line x1="61.9" y1="1182.35" x2="64.9" y2="1182.35" stroke="#000" stroke-width="1.3"/><text x="61.7" y="1188.75" font-size="17.8" text-anchor="end" textLength="34.4" lengthAdjust="spacingAndGlyphs" font-family="Liberation Sans, sans-serif" font-weight="bold">1:20</text><line x1="64.9" y1="1196.9" x2="64.9" y2="1200.1" stroke="#000" stroke-width="1.7"/><text x="64.9" y="1216.5" font-size="17.9" text-anchor="middle" textLength="24.2" lengthAdjust="spacingAndGlyphs" font-family="Liberation Sans, sans-serif" font-weight="bold">0.0</text><line x1="122.68" y1="1196.9" x2="122.68" y2="1200.1" stroke="#000" stroke-width="1.7"/><text x="122.68" y="1216.5" font-size="17.9" text-anchor="middle" textLength="24.2" lengthAdjust="spacingAndGlyphs" font-family="Liberation Sans, sans-serif" font-weight="bold">0.5</text><line x1="180.45" y1="1196.9" x2="180.45" y2="1200.1" stroke="#000" stroke-width="1.7"/><text x="180.45" y="1216.5" font-size="17.9" text-anchor="middle" textLength="24.2" lengthAdjust="spacingAndGlyphs" font-family="Liberation Sans, sans-serif" font-weight="bold">1.0</text><line x1="238.22" y1="1196.9" x2="238.22" y2="1200.1" stroke="#000" stroke-width="1.7"/><text x="238.22" y="1216.5" font-size="17.9" text-anchor="middle" textLength="24.2" lengthAdjust="spacingAndGlyphs" font-family="Liberation Sans, sans-serif" font-weight="bold">1.5</text><line x1="296" y1="1196.9" x2="296" y2="1200.1" stroke="#000" stroke-width="1.7"/><text x="296" y="1216.5" font-size="17.9" text-anchor="middle" textLength="24.2" lengthAdjust="spacingAndGlyphs" font-family="Liberation Sans, sans-serif" font-weight="bold">2.0</text><text x="180.45" y="1238.5" font-size="18" text-anchor="middle" textLength="17.6" lengthAdjust="spacingAndGlyphs" font-family="Liberation Sans, sans-serif" font-weight="bold">CI</text><text transform="translate(16.5 1086.75) rotate(-90)" font-size="16.8" text-anchor="middle" textLength="133.6" lengthAdjust="spacingAndGlyphs" font-family="Liberation Sans, sans-serif" font-weight="bold">NIRB:DOX Ratio</text><text x="114" y="963.35" font-size="23.2" textLength="133.5" lengthAdjust="spacingAndGlyphs" font-family="Liberation Sans, sans-serif" font-weight="bold">PEO4 Fa 0.5</text></g>
<g><rect x="441.1" y="991.15" width="104.08" height="205.55" fill="#c5e0b4"/><rect x="545.18" y="991.15" width="23.13" height="205.55" fill="#ede3a0"/><rect x="568.32" y="991.15" width="104.08" height="205.55" fill="#e98b8b"/><line x1="545.18" y1="991.15" x2="545.18" y2="1196.7" stroke="#000" stroke-width="0.82" stroke-dasharray="1.05 1.15"/><line x1="568.32" y1="991.15" x2="568.32" y2="1196.7" stroke="#000" stroke-width="0.82" stroke-dasharray="1.05 1.15"/><line x1="570.12" y1="1005.96" x2="605.47" y2="1005.96" stroke="#000" stroke-width="1.15"/><line x1="570.12" y1="1002.26" x2="570.12" y2="1009.66" stroke="#000" stroke-width="2"/><line x1="605.47" y1="1002.26" x2="605.47" y2="1009.66" stroke="#000" stroke-width="2"/><line x1="587.49" y1="998.96" x2="587.49" y2="1012.96" stroke="#111" stroke-width="0.8"/><path d="M574.41 1000.58L576.31 1002.48L574.41 1004.38L572.51 1002.48Z" fill="#43005f"/><path d="M571.75 1007.53L573.65 1009.43L571.75 1011.33L569.85 1009.43Z" fill="#43005f"/><path d="M596.28 1004.06L598.18 1005.96L596.28 1007.86L594.38 1005.96Z" fill="#43005f"/><path d="M608.54 1004.06L610.44 1005.96L608.54 1007.86L606.64 1005.96Z" fill="#43005f"/><line x1="551.72" y1="1028.03" x2="580.54" y2="1028.03" stroke="#000" stroke-width="1.9"/><line x1="551.72" y1="1024.33" x2="551.72" y2="1031.73" stroke="#000" stroke-width="2"/><line x1="580.54" y1="1024.33" x2="580.54" y2="1031.73" stroke="#000" stroke-width="2"/><line x1="566.23" y1="1021.03" x2="566.23" y2="1035.03" stroke="#111" stroke-width="0.8"/><path d="M551.31 1026.36L553.31 1022.76L549.31 1022.76Z" fill="#80008c"/><path d="M550.29 1033.51L552.29 1029.91L548.29 1029.91Z" fill="#80008c"/><path d="M575.02 1026.36L577.02 1022.76L573.02 1022.76Z" fill="#80008c"/><path d="M575.02 1033.51L577.02 1029.91L573.02 1029.91Z" fill="#80008c"/><path d="M579.93 1030.03L581.93 1026.43L577.93 1026.43Z" fill="#80008c"/><line x1="541.09" y1="1050.11" x2="591.58" y2="1050.11" stroke="#000" stroke-width="1.9"/><line x1="541.09" y1="1046.41" x2="541.09" y2="1053.81" stroke="#000" stroke-width="2"/><line x1="591.58" y1="1046.41" x2="591.58" y2="1053.81" stroke="#000" stroke-width="2"/><line x1="566.44" y1="1043.11" x2="566.44" y2="1057.11" stroke="#111" stroke-width="0.8"/><path d="M548.04 1042.39L550.04 1045.99L546.04 1045.99Z" fill="#a400c8"/><path d="M549.27 1048.11L551.27 1051.71L547.27 1051.71Z" fill="#a400c8"/><path d="M547.43 1053.63L549.43 1057.23L545.43 1057.23Z" fill="#a400c8"/><path d="M587.69 1048.11L589.69 1051.71L585.69 1051.71Z" fill="#a400c8"/><path d="M600.16 1048.11L602.16 1051.71L598.16 1051.71Z" fill="#a400c8"/><line x1="543.55" y1="1072.19" x2="584.01" y2="1072.19" stroke="#000" stroke-width="1.9"/><line x1="543.55" y1="1068.49" x2="543.55" y2="1075.89" stroke="#000" stroke-width="2"/><line x1="584.01" y1="1068.49" x2="584.01" y2="1075.89" stroke="#000" stroke-width="2"/><line x1="563.78" y1="1065.19" x2="563.78" y2="1079.19" stroke="#111" stroke-width="0.8"/><rect x="534.39" y="1070.39" width="3.6" height="3.6" fill="#000080"/><rect x="559.73" y="1070.39" width="3.6" height="3.6" fill="#000080"/><rect x="577.51" y="1066.71" width="3.6" height="3.6" fill="#000080"/><rect x="577.51" y="1073.46" width="3.6" height="3.6" fill="#000080"/><line x1="554.99" y1="1094.27" x2="587.69" y2="1094.27" stroke="#000" stroke-width="1.9"/><line x1="554.99" y1="1090.57" x2="554.99" y2="1097.97" stroke="#000" stroke-width="2"/><line x1="587.69" y1="1090.57" x2="587.69" y2="1097.97" stroke="#000" stroke-width="2"/><line x1="571.34" y1="1087.27" x2="571.34" y2="1101.27" stroke="#111" stroke-width="0.8"/><circle cx="549.47" cy="1094.27" r="1.9" fill="#0000b0"/><circle cx="566.64" cy="1090.79" r="1.9" fill="#0000b0"/><circle cx="569.71" cy="1097.95" r="1.9" fill="#0000b0"/><circle cx="576.86" cy="1094.27" r="1.9" fill="#0000b0"/><circle cx="594.23" cy="1094.27" r="1.9" fill="#0000b0"/><line x1="571.14" y1="1116.35" x2="585.24" y2="1116.35" stroke="#000" stroke-width="1.9"/><line x1="571.14" y1="1112.65" x2="571.14" y2="1120.05" stroke="#000" stroke-width="2"/><line x1="585.24" y1="1112.65" x2="585.24" y2="1120.05" stroke="#000" stroke-width="2"/><line x1="577.88" y1="1109.35" x2="577.88" y2="1123.35" stroke="#111" stroke-width="0.8"/><path d="M570.73 1114.45L572.63 1116.35L570.73 1118.25L568.83 1116.35Z" fill="#0000ff"/><path d="M577.47 1110.77L579.37 1112.67L577.47 1114.57L575.57 1112.67Z" fill="#0000ff"/><path d="M578.5 1117.92L580.4 1119.82L578.5 1121.72L576.6 1119.82Z" fill="#0000ff"/><path d="M586.06 1114.45L587.96 1116.35L586.06 1118.25L584.16 1116.35Z" fill="#0000ff"/><line x1="556.42" y1="1138.43" x2="590.76" y2="1138.43" stroke="#000" stroke-width="1.15"/><line x1="556.42" y1="1134.73" x2="556.42" y2="1142.13" stroke="#000" stroke-width="2"/><line x1="590.76" y1="1134.73" x2="590.76" y2="1142.13" stroke="#000" stroke-width="2"/><line x1="573.39" y1="1131.43" x2="573.39" y2="1145.43" stroke="#111" stroke-width="0.8"/><path d="M565.21 1134.7L567.21 1131.1L563.21 1131.1Z" fill="#1a4f78"/><path d="M565.21 1140.43L567.21 1136.83L563.21 1136.83Z" fill="#1a4f78"/><path d="M562.35 1145.94L564.35 1142.34L560.35 1142.34Z" fill="#1a4f78"/><path d="M571.75 1140.43L573.75 1136.83L569.75 1136.83Z" fill="#1a4f78"/><path d="M603.84 1140.43L605.84 1136.83L601.84 1136.83Z" fill="#1a4f78"/><line x1="544.77" y1="1160.5" x2="602" y2="1160.5" stroke="#000" stroke-width="1.9"/><line x1="544.77" y1="1156.8" x2="544.77" y2="1164.2" stroke="#000" stroke-width="2"/><line x1="602" y1="1156.8" x2="602" y2="1164.2" stroke="#000" stroke-width="2"/><line x1="573.39" y1="1153.5" x2="573.39" y2="1167.5" stroke="#111" stroke-width="0.8"/><path d="M539.05 1158.5L541.05 1162.1L537.05 1162.1Z" fill="#1a82ad"/><path d="M559.9 1158.5L561.9 1162.1L557.9 1162.1Z" fill="#1a82ad"/><path d="M572.16 1158.5L574.16 1162.1L570.16 1162.1Z" fill="#1a82ad"/><path d="M579.31 1158.5L581.31 1162.1L577.31 1162.1Z" fill="#1a82ad"/><path d="M616.1 1158.5L618.1 1162.1L614.1 1162.1Z" fill="#1a82ad"/><line x1="530.26" y1="1182.58" x2="580.13" y2="1182.58" stroke="#000" stroke-width="1.55"/><line x1="530.26" y1="1178.88" x2="530.26" y2="1186.28" stroke="#000" stroke-width="2"/><line x1="580.13" y1="1178.88" x2="580.13" y2="1186.28" stroke="#000" stroke-width="2"/><line x1="555.4" y1="1175.58" x2="555.4" y2="1189.58" stroke="#111" stroke-width="0.8"/><rect x="514.77" y="1180.78" width="3.6" height="3.6" fill="#1a98bd"/><rect x="550.13" y="1177.31" width="3.6" height="3.6" fill="#1a98bd"/><rect x="551.15" y="1184.26" width="3.6" height="3.6" fill="#1a98bd"/><rect x="575.67" y="1177.31" width="3.6" height="3.6" fill="#1a98bd"/><rect x="575.67" y="1184.26" width="3.6" height="3.6" fill="#1a98bd"/><rect x="441.1" y="991.15" width="231.3" height="205.55" fill="none" stroke="#000" stroke-width="1.75"/><line x1="438.1" y1="1005.96" x2="441.1" y2="1005.96" stroke="#000" stroke-width="1.3"/><text x="437.9" y="1012.36" font-size="17.8" text-anchor="end" textLength="34.4" lengthAdjust="spacingAndGlyphs" font-family="Liberation Sans, sans-serif" font-weight="bold">20:1</text><line x1="438.1" y1="1028.03" x2="441.1" y2="1028.03" stroke="#000" stroke-width="1.3"/><text x="437.9" y="1034.43" font-size="17.8" text-anchor="end" textLength="34.4" lengthAdjust="spacingAndGlyphs" font-family="Liberation Sans, sans-serif" font-weight="bold">10:1</text><line x1="438.1" y1="1050.11" x2="441.1" y2="1050.11" stroke="#000" stroke-width="1.3"/><text x="437.9" y="1056.51" font-size="17.8" text-anchor="end" textLength="24.8" lengthAdjust="spacingAndGlyphs" font-family="Liberation Sans, sans-serif" font-weight="bold">5:1</text><line x1="438.1" y1="1072.19" x2="441.1" y2="1072.19" stroke="#000" stroke-width="1.3"/><text x="437.9" y="1078.59" font-size="17.8" text-anchor="end" textLength="24.8" lengthAdjust="spacingAndGlyphs" font-family="Liberation Sans, sans-serif" font-weight="bold">2:1</text><line x1="438.1" y1="1094.27" x2="441.1" y2="1094.27" stroke="#000" stroke-width="1.3"/><text x="437.9" y="1100.67" font-size="17.8" text-anchor="end" textLength="24.8" lengthAdjust="spacingAndGlyphs" font-family="Liberation Sans, sans-serif" font-weight="bold">1:1</text><line x1="438.1" y1="1116.35" x2="441.1" y2="1116.35" stroke="#000" stroke-width="1.3"/><text x="437.9" y="1122.75" font-size="17.8" text-anchor="end" textLength="24.8" lengthAdjust="spacingAndGlyphs" font-family="Liberation Sans, sans-serif" font-weight="bold">1:2</text><line x1="438.1" y1="1138.43" x2="441.1" y2="1138.43" stroke="#000" stroke-width="1.3"/><text x="437.9" y="1144.83" font-size="17.8" text-anchor="end" textLength="24.8" lengthAdjust="spacingAndGlyphs" font-family="Liberation Sans, sans-serif" font-weight="bold">1:5</text><line x1="438.1" y1="1160.5" x2="441.1" y2="1160.5" stroke="#000" stroke-width="1.3"/><text x="437.9" y="1166.9" font-size="17.8" text-anchor="end" textLength="34.4" lengthAdjust="spacingAndGlyphs" font-family="Liberation Sans, sans-serif" font-weight="bold">1:10</text><line x1="438.1" y1="1182.58" x2="441.1" y2="1182.58" stroke="#000" stroke-width="1.3"/><text x="437.9" y="1188.98" font-size="17.8" text-anchor="end" textLength="34.4" lengthAdjust="spacingAndGlyphs" font-family="Liberation Sans, sans-serif" font-weight="bold">1:20</text><line x1="441.1" y1="1196.7" x2="441.1" y2="1199.9" stroke="#000" stroke-width="1.7"/><text x="441.1" y="1216.5" font-size="17.9" text-anchor="middle" textLength="24.2" lengthAdjust="spacingAndGlyphs" font-family="Liberation Sans, sans-serif" font-weight="bold">0.0</text><line x1="498.93" y1="1196.7" x2="498.93" y2="1199.9" stroke="#000" stroke-width="1.7"/><text x="498.93" y="1216.5" font-size="17.9" text-anchor="middle" textLength="24.2" lengthAdjust="spacingAndGlyphs" font-family="Liberation Sans, sans-serif" font-weight="bold">0.5</text><line x1="556.75" y1="1196.7" x2="556.75" y2="1199.9" stroke="#000" stroke-width="1.7"/><text x="556.75" y="1216.5" font-size="17.9" text-anchor="middle" textLength="24.2" lengthAdjust="spacingAndGlyphs" font-family="Liberation Sans, sans-serif" font-weight="bold">1.0</text><line x1="614.58" y1="1196.7" x2="614.58" y2="1199.9" stroke="#000" stroke-width="1.7"/><text x="614.58" y="1216.5" font-size="17.9" text-anchor="middle" textLength="24.2" lengthAdjust="spacingAndGlyphs" font-family="Liberation Sans, sans-serif" font-weight="bold">1.5</text><line x1="672.4" y1="1196.7" x2="672.4" y2="1199.9" stroke="#000" stroke-width="1.7"/><text x="672.4" y="1216.5" font-size="17.9" text-anchor="middle" textLength="24.2" lengthAdjust="spacingAndGlyphs" font-family="Liberation Sans, sans-serif" font-weight="bold">2.0</text><text x="556.75" y="1238.5" font-size="18" text-anchor="middle" textLength="17.6" lengthAdjust="spacingAndGlyphs" font-family="Liberation Sans, sans-serif" font-weight="bold">CI</text><text transform="translate(392.7 1086.62) rotate(-90)" font-size="16.8" text-anchor="middle" textLength="133.6" lengthAdjust="spacingAndGlyphs" font-family="Liberation Sans, sans-serif" font-weight="bold">NIRB:DOX Ratio</text><text x="483.8" y="963.35" font-size="23.2" textLength="146.7" lengthAdjust="spacingAndGlyphs" font-family="Liberation Sans, sans-serif" font-weight="bold">PEO4 Fa 0.75</text></g>
</g>
</svg>
</body></html>
